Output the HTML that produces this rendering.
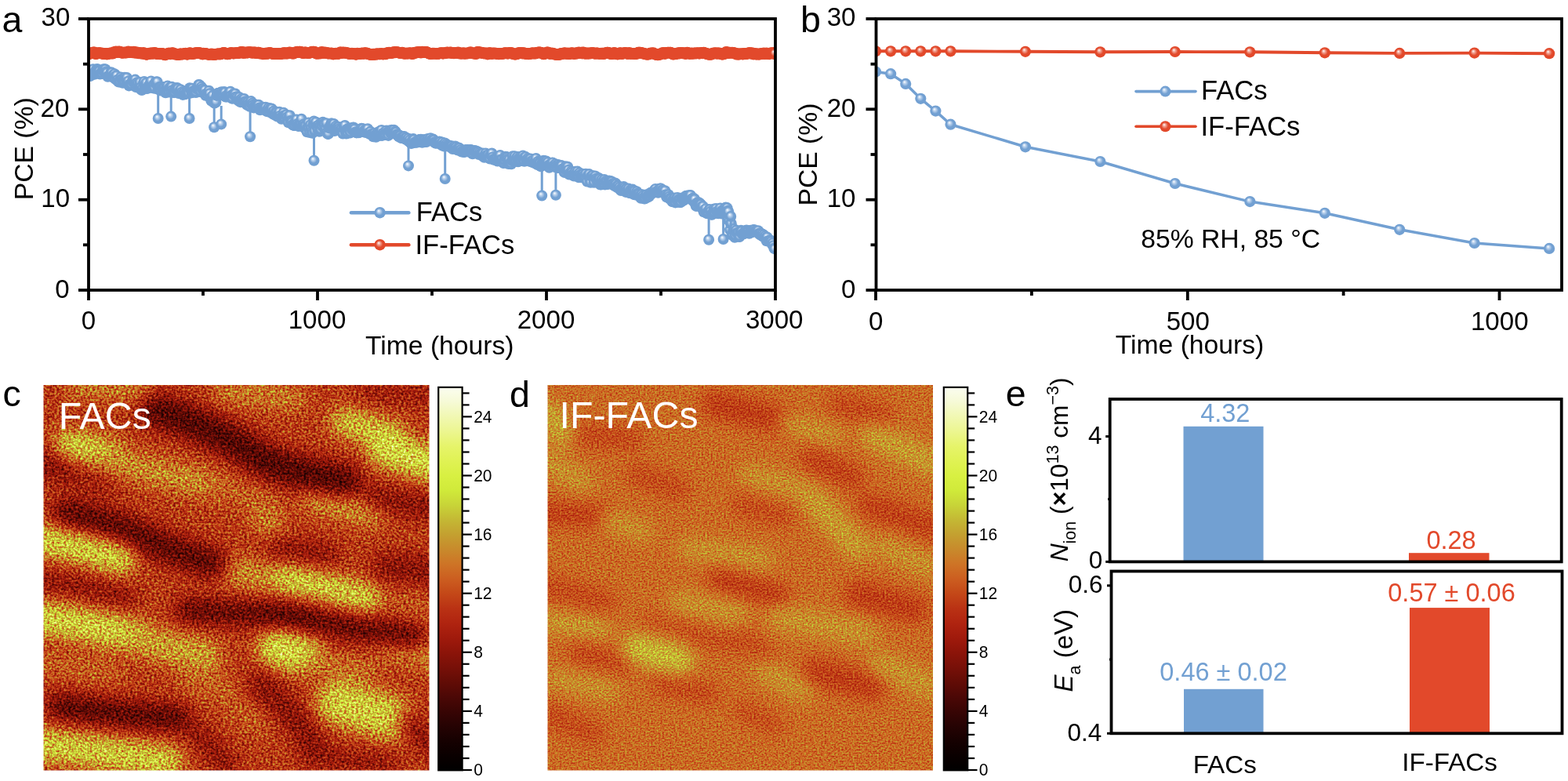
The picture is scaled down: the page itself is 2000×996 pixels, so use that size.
<!DOCTYPE html>
<html><head><meta charset="utf-8"><title>Figure</title><style>html,body{margin:0;padding:0;background:#fff;overflow:hidden}svg{display:block}</style></head><body>
<svg width="2000" height="996" viewBox="0 0 2000 996" font-family="'Liberation Sans', Arial, Helvetica, sans-serif">
<defs>
<radialGradient id="gb" cx="0.5" cy="0.5" r="0.5" fx="0.38" fy="0.32"><stop offset="0" stop-color="#fff"/><stop offset="0.28" stop-color="#B8D0EC"/><stop offset="0.62" stop-color="#72A0D2"/><stop offset="1" stop-color="#72A0D2"/></radialGradient>
<radialGradient id="gr" cx="0.5" cy="0.5" r="0.5" fx="0.38" fy="0.32"><stop offset="0" stop-color="#fff"/><stop offset="0.28" stop-color="#F0A090"/><stop offset="0.62" stop-color="#E2492B"/><stop offset="1" stop-color="#E2492B"/></radialGradient>
</defs>
<rect width="2000" height="996" fill="#fff"/>
<clipPath id="clipA"><rect x="113" y="24" width="876" height="346"/></clipPath>
<g clip-path="url(#clipA)" fill="url(#gr)"><circle cx="113.5" cy="69.1" r="7.3"/><circle cx="114.4" cy="67.8" r="7.3"/><circle cx="115.3" cy="68.1" r="7.3"/><circle cx="116.1" cy="67.8" r="7.3"/><circle cx="117.0" cy="67.7" r="7.3"/><circle cx="117.9" cy="67.7" r="7.3"/><circle cx="118.8" cy="66.9" r="7.3"/><circle cx="119.7" cy="67.1" r="7.3"/><circle cx="120.5" cy="66.9" r="7.3"/><circle cx="121.4" cy="68.7" r="7.3"/><circle cx="122.3" cy="68.7" r="7.3"/><circle cx="123.2" cy="68.4" r="7.3"/><circle cx="124.1" cy="68.3" r="7.3"/><circle cx="124.9" cy="67.9" r="7.3"/><circle cx="125.8" cy="67.5" r="7.3"/><circle cx="126.7" cy="67.5" r="7.3"/><circle cx="127.6" cy="67.8" r="7.3"/><circle cx="128.5" cy="67.8" r="7.3"/><circle cx="129.3" cy="68.3" r="7.3"/><circle cx="130.2" cy="68.1" r="7.3"/><circle cx="131.1" cy="68.1" r="7.3"/><circle cx="132.0" cy="68.8" r="7.3"/><circle cx="132.9" cy="68.8" r="7.3"/><circle cx="133.7" cy="68.4" r="7.3"/><circle cx="134.6" cy="68.2" r="7.3"/><circle cx="135.5" cy="68.4" r="7.3"/><circle cx="136.4" cy="69.1" r="7.3"/><circle cx="137.3" cy="68.7" r="7.3"/><circle cx="138.1" cy="68.3" r="7.3"/><circle cx="139.0" cy="68.6" r="7.3"/><circle cx="139.9" cy="68.0" r="7.3"/><circle cx="140.8" cy="67.7" r="7.3"/><circle cx="141.7" cy="68.0" r="7.3"/><circle cx="142.5" cy="68.1" r="7.3"/><circle cx="143.4" cy="67.9" r="7.3"/><circle cx="144.3" cy="68.1" r="7.3"/><circle cx="145.2" cy="66.6" r="7.3"/><circle cx="146.1" cy="67.1" r="7.3"/><circle cx="146.9" cy="66.6" r="7.3"/><circle cx="147.8" cy="65.9" r="7.3"/><circle cx="148.7" cy="66.2" r="7.3"/><circle cx="149.6" cy="66.6" r="7.3"/><circle cx="150.5" cy="66.4" r="7.3"/><circle cx="151.3" cy="65.9" r="7.3"/><circle cx="152.2" cy="66.1" r="7.3"/><circle cx="153.1" cy="66.1" r="7.3"/><circle cx="154.0" cy="66.9" r="7.3"/><circle cx="154.9" cy="67.1" r="7.3"/><circle cx="155.7" cy="67.1" r="7.3"/><circle cx="156.6" cy="67.5" r="7.3"/><circle cx="157.5" cy="67.2" r="7.3"/><circle cx="158.4" cy="66.7" r="7.3"/><circle cx="159.3" cy="67.0" r="7.3"/><circle cx="160.1" cy="67.2" r="7.3"/><circle cx="161.0" cy="67.1" r="7.3"/><circle cx="161.9" cy="66.7" r="7.3"/><circle cx="162.8" cy="66.9" r="7.3"/><circle cx="163.7" cy="65.8" r="7.3"/><circle cx="164.5" cy="66.4" r="7.3"/><circle cx="165.4" cy="66.8" r="7.3"/><circle cx="166.3" cy="66.2" r="7.3"/><circle cx="167.2" cy="66.5" r="7.3"/><circle cx="168.1" cy="66.3" r="7.3"/><circle cx="168.9" cy="66.9" r="7.3"/><circle cx="169.8" cy="66.2" r="7.3"/><circle cx="170.7" cy="66.1" r="7.3"/><circle cx="171.6" cy="66.8" r="7.3"/><circle cx="172.5" cy="67.5" r="7.3"/><circle cx="173.3" cy="66.7" r="7.3"/><circle cx="174.2" cy="66.7" r="7.3"/><circle cx="175.1" cy="67.2" r="7.3"/><circle cx="176.0" cy="67.1" r="7.3"/><circle cx="176.9" cy="68.0" r="7.3"/><circle cx="177.7" cy="67.5" r="7.3"/><circle cx="178.6" cy="67.9" r="7.3"/><circle cx="179.5" cy="67.5" r="7.3"/><circle cx="180.4" cy="68.3" r="7.3"/><circle cx="181.3" cy="68.3" r="7.3"/><circle cx="182.1" cy="68.2" r="7.3"/><circle cx="183.0" cy="67.4" r="7.3"/><circle cx="183.9" cy="68.4" r="7.3"/><circle cx="184.8" cy="68.7" r="7.3"/><circle cx="185.7" cy="69.0" r="7.3"/><circle cx="186.5" cy="69.4" r="7.3"/><circle cx="187.4" cy="69.4" r="7.3"/><circle cx="188.3" cy="68.9" r="7.3"/><circle cx="189.2" cy="68.5" r="7.3"/><circle cx="190.1" cy="68.1" r="7.3"/><circle cx="190.9" cy="68.8" r="7.3"/><circle cx="191.8" cy="68.1" r="7.3"/><circle cx="192.7" cy="67.9" r="7.3"/><circle cx="193.6" cy="67.9" r="7.3"/><circle cx="194.5" cy="68.1" r="7.3"/><circle cx="195.3" cy="68.4" r="7.3"/><circle cx="196.2" cy="67.9" r="7.3"/><circle cx="197.1" cy="67.2" r="7.3"/><circle cx="198.0" cy="67.5" r="7.3"/><circle cx="198.9" cy="68.2" r="7.3"/><circle cx="199.7" cy="68.6" r="7.3"/><circle cx="200.6" cy="68.7" r="7.3"/><circle cx="201.5" cy="68.5" r="7.3"/><circle cx="202.4" cy="68.6" r="7.3"/><circle cx="203.3" cy="68.5" r="7.3"/><circle cx="204.1" cy="68.9" r="7.3"/><circle cx="205.0" cy="68.4" r="7.3"/><circle cx="205.9" cy="68.5" r="7.3"/><circle cx="206.8" cy="68.4" r="7.3"/><circle cx="207.7" cy="68.7" r="7.3"/><circle cx="208.5" cy="68.8" r="7.3"/><circle cx="209.4" cy="69.8" r="7.3"/><circle cx="210.3" cy="69.9" r="7.3"/><circle cx="211.2" cy="69.9" r="7.3"/><circle cx="212.1" cy="69.2" r="7.3"/><circle cx="212.9" cy="68.9" r="7.3"/><circle cx="213.8" cy="68.6" r="7.3"/><circle cx="214.7" cy="68.8" r="7.3"/><circle cx="215.6" cy="67.7" r="7.3"/><circle cx="216.5" cy="68.4" r="7.3"/><circle cx="217.3" cy="68.9" r="7.3"/><circle cx="218.2" cy="68.2" r="7.3"/><circle cx="219.1" cy="67.8" r="7.3"/><circle cx="220.0" cy="67.6" r="7.3"/><circle cx="220.9" cy="67.8" r="7.3"/><circle cx="221.7" cy="68.2" r="7.3"/><circle cx="222.6" cy="69.2" r="7.3"/><circle cx="223.5" cy="68.9" r="7.3"/><circle cx="224.4" cy="69.2" r="7.3"/><circle cx="225.3" cy="69.1" r="7.3"/><circle cx="226.1" cy="69.7" r="7.3"/><circle cx="227.0" cy="69.8" r="7.3"/><circle cx="227.9" cy="69.8" r="7.3"/><circle cx="228.8" cy="69.3" r="7.3"/><circle cx="229.7" cy="69.0" r="7.3"/><circle cx="230.5" cy="68.5" r="7.3"/><circle cx="231.4" cy="69.2" r="7.3"/><circle cx="232.3" cy="69.3" r="7.3"/><circle cx="233.2" cy="69.0" r="7.3"/><circle cx="234.1" cy="68.7" r="7.3"/><circle cx="234.9" cy="68.8" r="7.3"/><circle cx="235.8" cy="68.4" r="7.3"/><circle cx="236.7" cy="68.0" r="7.3"/><circle cx="237.6" cy="68.3" r="7.3"/><circle cx="238.5" cy="69.4" r="7.3"/><circle cx="239.3" cy="69.1" r="7.3"/><circle cx="240.2" cy="68.7" r="7.3"/><circle cx="241.1" cy="68.1" r="7.3"/><circle cx="242.0" cy="67.5" r="7.3"/><circle cx="242.9" cy="67.9" r="7.3"/><circle cx="243.7" cy="68.4" r="7.3"/><circle cx="244.6" cy="68.4" r="7.3"/><circle cx="245.5" cy="68.5" r="7.3"/><circle cx="246.4" cy="68.5" r="7.3"/><circle cx="247.3" cy="68.5" r="7.3"/><circle cx="248.1" cy="67.8" r="7.3"/><circle cx="249.0" cy="67.7" r="7.3"/><circle cx="249.9" cy="67.9" r="7.3"/><circle cx="250.8" cy="67.6" r="7.3"/><circle cx="251.7" cy="67.5" r="7.3"/><circle cx="252.5" cy="67.3" r="7.3"/><circle cx="253.4" cy="67.3" r="7.3"/><circle cx="254.3" cy="67.9" r="7.3"/><circle cx="255.2" cy="67.8" r="7.3"/><circle cx="256.1" cy="67.8" r="7.3"/><circle cx="256.9" cy="68.3" r="7.3"/><circle cx="257.8" cy="68.5" r="7.3"/><circle cx="258.7" cy="69.2" r="7.3"/><circle cx="259.6" cy="68.1" r="7.3"/><circle cx="260.5" cy="68.5" r="7.3"/><circle cx="261.3" cy="68.2" r="7.3"/><circle cx="262.2" cy="68.3" r="7.3"/><circle cx="263.1" cy="68.6" r="7.3"/><circle cx="264.0" cy="69.0" r="7.3"/><circle cx="264.9" cy="69.3" r="7.3"/><circle cx="265.7" cy="69.2" r="7.3"/><circle cx="266.6" cy="69.6" r="7.3"/><circle cx="267.5" cy="69.2" r="7.3"/><circle cx="268.4" cy="69.0" r="7.3"/><circle cx="269.3" cy="69.2" r="7.3"/><circle cx="270.1" cy="68.7" r="7.3"/><circle cx="271.0" cy="69.5" r="7.3"/><circle cx="271.9" cy="69.5" r="7.3"/><circle cx="272.8" cy="69.5" r="7.3"/><circle cx="273.7" cy="69.5" r="7.3"/><circle cx="274.5" cy="69.4" r="7.3"/><circle cx="275.4" cy="69.2" r="7.3"/><circle cx="276.3" cy="69.3" r="7.3"/><circle cx="277.2" cy="68.8" r="7.3"/><circle cx="278.1" cy="68.8" r="7.3"/><circle cx="278.9" cy="68.7" r="7.3"/><circle cx="279.8" cy="69.3" r="7.3"/><circle cx="280.7" cy="68.7" r="7.3"/><circle cx="281.6" cy="69.0" r="7.3"/><circle cx="282.5" cy="68.6" r="7.3"/><circle cx="283.3" cy="68.0" r="7.3"/><circle cx="284.2" cy="67.7" r="7.3"/><circle cx="285.1" cy="67.2" r="7.3"/><circle cx="286.0" cy="67.4" r="7.3"/><circle cx="286.9" cy="68.0" r="7.3"/><circle cx="287.7" cy="68.1" r="7.3"/><circle cx="288.6" cy="68.3" r="7.3"/><circle cx="289.5" cy="69.0" r="7.3"/><circle cx="290.4" cy="68.9" r="7.3"/><circle cx="291.3" cy="68.8" r="7.3"/><circle cx="292.1" cy="68.5" r="7.3"/><circle cx="293.0" cy="67.7" r="7.3"/><circle cx="293.9" cy="68.1" r="7.3"/><circle cx="294.8" cy="67.2" r="7.3"/><circle cx="295.7" cy="67.7" r="7.3"/><circle cx="296.5" cy="67.7" r="7.3"/><circle cx="297.4" cy="68.2" r="7.3"/><circle cx="298.3" cy="68.1" r="7.3"/><circle cx="299.2" cy="67.7" r="7.3"/><circle cx="300.1" cy="67.9" r="7.3"/><circle cx="300.9" cy="67.6" r="7.3"/><circle cx="301.8" cy="67.6" r="7.3"/><circle cx="302.7" cy="67.7" r="7.3"/><circle cx="303.6" cy="67.6" r="7.3"/><circle cx="304.5" cy="67.6" r="7.3"/><circle cx="305.3" cy="67.3" r="7.3"/><circle cx="306.2" cy="67.3" r="7.3"/><circle cx="307.1" cy="66.4" r="7.3"/><circle cx="308.0" cy="66.6" r="7.3"/><circle cx="308.9" cy="66.4" r="7.3"/><circle cx="309.7" cy="67.1" r="7.3"/><circle cx="310.6" cy="67.8" r="7.3"/><circle cx="311.5" cy="66.9" r="7.3"/><circle cx="312.4" cy="67.2" r="7.3"/><circle cx="313.3" cy="67.2" r="7.3"/><circle cx="314.1" cy="66.8" r="7.3"/><circle cx="315.0" cy="67.3" r="7.3"/><circle cx="315.9" cy="67.1" r="7.3"/><circle cx="316.8" cy="66.5" r="7.3"/><circle cx="317.7" cy="66.6" r="7.3"/><circle cx="318.5" cy="66.7" r="7.3"/><circle cx="319.4" cy="67.0" r="7.3"/><circle cx="320.3" cy="66.6" r="7.3"/><circle cx="321.2" cy="67.1" r="7.3"/><circle cx="322.1" cy="67.5" r="7.3"/><circle cx="322.9" cy="67.0" r="7.3"/><circle cx="323.8" cy="66.8" r="7.3"/><circle cx="324.7" cy="67.0" r="7.3"/><circle cx="325.6" cy="66.8" r="7.3"/><circle cx="326.5" cy="67.8" r="7.3"/><circle cx="327.3" cy="67.8" r="7.3"/><circle cx="328.2" cy="67.3" r="7.3"/><circle cx="329.1" cy="67.0" r="7.3"/><circle cx="330.0" cy="67.1" r="7.3"/><circle cx="330.9" cy="68.2" r="7.3"/><circle cx="331.7" cy="68.0" r="7.3"/><circle cx="332.6" cy="68.0" r="7.3"/><circle cx="333.5" cy="68.1" r="7.3"/><circle cx="334.4" cy="68.0" r="7.3"/><circle cx="335.3" cy="68.9" r="7.3"/><circle cx="336.1" cy="68.4" r="7.3"/><circle cx="337.0" cy="68.6" r="7.3"/><circle cx="337.9" cy="68.4" r="7.3"/><circle cx="338.8" cy="68.5" r="7.3"/><circle cx="339.7" cy="67.8" r="7.3"/><circle cx="340.5" cy="68.5" r="7.3"/><circle cx="341.4" cy="68.3" r="7.3"/><circle cx="342.3" cy="68.1" r="7.3"/><circle cx="343.2" cy="67.6" r="7.3"/><circle cx="344.1" cy="67.2" r="7.3"/><circle cx="344.9" cy="67.5" r="7.3"/><circle cx="345.8" cy="68.0" r="7.3"/><circle cx="346.7" cy="68.2" r="7.3"/><circle cx="347.6" cy="68.6" r="7.3"/><circle cx="348.5" cy="68.7" r="7.3"/><circle cx="349.3" cy="68.4" r="7.3"/><circle cx="350.2" cy="68.6" r="7.3"/><circle cx="351.1" cy="68.7" r="7.3"/><circle cx="352.0" cy="68.4" r="7.3"/><circle cx="352.9" cy="68.5" r="7.3"/><circle cx="353.7" cy="68.8" r="7.3"/><circle cx="354.6" cy="68.7" r="7.3"/><circle cx="355.5" cy="68.3" r="7.3"/><circle cx="356.4" cy="68.4" r="7.3"/><circle cx="357.3" cy="68.8" r="7.3"/><circle cx="358.1" cy="68.6" r="7.3"/><circle cx="359.0" cy="68.3" r="7.3"/><circle cx="359.9" cy="68.1" r="7.3"/><circle cx="360.8" cy="68.5" r="7.3"/><circle cx="361.7" cy="67.5" r="7.3"/><circle cx="362.5" cy="67.6" r="7.3"/><circle cx="363.4" cy="68.1" r="7.3"/><circle cx="364.3" cy="67.6" r="7.3"/><circle cx="365.2" cy="68.2" r="7.3"/><circle cx="366.1" cy="68.3" r="7.3"/><circle cx="366.9" cy="67.9" r="7.3"/><circle cx="367.8" cy="67.9" r="7.3"/><circle cx="368.7" cy="67.1" r="7.3"/><circle cx="369.6" cy="66.9" r="7.3"/><circle cx="370.5" cy="67.8" r="7.3"/><circle cx="371.3" cy="67.3" r="7.3"/><circle cx="372.2" cy="68.2" r="7.3"/><circle cx="373.1" cy="68.0" r="7.3"/><circle cx="374.0" cy="68.3" r="7.3"/><circle cx="374.9" cy="68.1" r="7.3"/><circle cx="375.7" cy="67.0" r="7.3"/><circle cx="376.6" cy="66.8" r="7.3"/><circle cx="377.5" cy="67.0" r="7.3"/><circle cx="378.4" cy="66.6" r="7.3"/><circle cx="379.3" cy="66.1" r="7.3"/><circle cx="380.1" cy="66.5" r="7.3"/><circle cx="381.0" cy="66.4" r="7.3"/><circle cx="381.9" cy="66.0" r="7.3"/><circle cx="382.8" cy="66.0" r="7.3"/><circle cx="383.7" cy="66.5" r="7.3"/><circle cx="384.5" cy="66.5" r="7.3"/><circle cx="385.4" cy="67.1" r="7.3"/><circle cx="386.3" cy="67.8" r="7.3"/><circle cx="387.2" cy="67.8" r="7.3"/><circle cx="388.1" cy="67.2" r="7.3"/><circle cx="388.9" cy="66.7" r="7.3"/><circle cx="389.8" cy="66.8" r="7.3"/><circle cx="390.7" cy="67.3" r="7.3"/><circle cx="391.6" cy="67.5" r="7.3"/><circle cx="392.5" cy="67.7" r="7.3"/><circle cx="393.3" cy="67.4" r="7.3"/><circle cx="394.2" cy="67.6" r="7.3"/><circle cx="395.1" cy="67.3" r="7.3"/><circle cx="396.0" cy="67.2" r="7.3"/><circle cx="396.9" cy="66.7" r="7.3"/><circle cx="397.7" cy="66.1" r="7.3"/><circle cx="398.6" cy="66.2" r="7.3"/><circle cx="399.5" cy="66.1" r="7.3"/><circle cx="400.4" cy="66.1" r="7.3"/><circle cx="401.3" cy="66.5" r="7.3"/><circle cx="402.1" cy="66.6" r="7.3"/><circle cx="403.0" cy="68.1" r="7.3"/><circle cx="403.9" cy="68.4" r="7.3"/><circle cx="404.8" cy="68.0" r="7.3"/><circle cx="405.7" cy="68.2" r="7.3"/><circle cx="406.5" cy="68.2" r="7.3"/><circle cx="407.4" cy="67.8" r="7.3"/><circle cx="408.3" cy="68.3" r="7.3"/><circle cx="409.2" cy="67.8" r="7.3"/><circle cx="410.1" cy="66.4" r="7.3"/><circle cx="410.9" cy="67.0" r="7.3"/><circle cx="411.8" cy="66.8" r="7.3"/><circle cx="412.7" cy="67.6" r="7.3"/><circle cx="413.6" cy="67.3" r="7.3"/><circle cx="414.5" cy="66.9" r="7.3"/><circle cx="415.3" cy="67.7" r="7.3"/><circle cx="416.2" cy="67.2" r="7.3"/><circle cx="417.1" cy="67.4" r="7.3"/><circle cx="418.0" cy="68.1" r="7.3"/><circle cx="418.9" cy="68.1" r="7.3"/><circle cx="419.7" cy="68.0" r="7.3"/><circle cx="420.6" cy="68.0" r="7.3"/><circle cx="421.5" cy="68.3" r="7.3"/><circle cx="422.4" cy="67.8" r="7.3"/><circle cx="423.3" cy="68.1" r="7.3"/><circle cx="424.1" cy="68.3" r="7.3"/><circle cx="425.0" cy="69.1" r="7.3"/><circle cx="425.9" cy="68.8" r="7.3"/><circle cx="426.8" cy="68.2" r="7.3"/><circle cx="427.7" cy="68.4" r="7.3"/><circle cx="428.5" cy="68.1" r="7.3"/><circle cx="429.4" cy="68.2" r="7.3"/><circle cx="430.3" cy="68.2" r="7.3"/><circle cx="431.2" cy="68.6" r="7.3"/><circle cx="432.1" cy="68.2" r="7.3"/><circle cx="432.9" cy="68.1" r="7.3"/><circle cx="433.8" cy="66.9" r="7.3"/><circle cx="434.7" cy="66.7" r="7.3"/><circle cx="435.6" cy="67.6" r="7.3"/><circle cx="436.5" cy="67.4" r="7.3"/><circle cx="437.3" cy="67.1" r="7.3"/><circle cx="438.2" cy="66.8" r="7.3"/><circle cx="439.1" cy="67.2" r="7.3"/><circle cx="440.0" cy="67.5" r="7.3"/><circle cx="440.9" cy="67.0" r="7.3"/><circle cx="441.7" cy="67.5" r="7.3"/><circle cx="442.6" cy="67.7" r="7.3"/><circle cx="443.5" cy="68.1" r="7.3"/><circle cx="444.4" cy="67.8" r="7.3"/><circle cx="445.3" cy="68.6" r="7.3"/><circle cx="446.1" cy="68.7" r="7.3"/><circle cx="447.0" cy="68.5" r="7.3"/><circle cx="447.9" cy="68.2" r="7.3"/><circle cx="448.8" cy="68.0" r="7.3"/><circle cx="449.7" cy="68.4" r="7.3"/><circle cx="450.5" cy="68.2" r="7.3"/><circle cx="451.4" cy="68.7" r="7.3"/><circle cx="452.3" cy="68.8" r="7.3"/><circle cx="453.2" cy="69.2" r="7.3"/><circle cx="454.1" cy="69.4" r="7.3"/><circle cx="454.9" cy="69.1" r="7.3"/><circle cx="455.8" cy="68.0" r="7.3"/><circle cx="456.7" cy="68.2" r="7.3"/><circle cx="457.6" cy="68.5" r="7.3"/><circle cx="458.5" cy="68.5" r="7.3"/><circle cx="459.3" cy="68.7" r="7.3"/><circle cx="460.2" cy="68.3" r="7.3"/><circle cx="461.1" cy="68.1" r="7.3"/><circle cx="462.0" cy="67.7" r="7.3"/><circle cx="462.9" cy="68.4" r="7.3"/><circle cx="463.7" cy="68.4" r="7.3"/><circle cx="464.6" cy="68.1" r="7.3"/><circle cx="465.5" cy="67.5" r="7.3"/><circle cx="466.4" cy="67.6" r="7.3"/><circle cx="467.3" cy="68.3" r="7.3"/><circle cx="468.1" cy="68.5" r="7.3"/><circle cx="469.0" cy="68.1" r="7.3"/><circle cx="469.9" cy="68.7" r="7.3"/><circle cx="470.8" cy="69.2" r="7.3"/><circle cx="471.7" cy="69.4" r="7.3"/><circle cx="472.5" cy="69.5" r="7.3"/><circle cx="473.4" cy="69.5" r="7.3"/><circle cx="474.3" cy="69.5" r="7.3"/><circle cx="475.2" cy="69.5" r="7.3"/><circle cx="476.1" cy="69.0" r="7.3"/><circle cx="476.9" cy="69.5" r="7.3"/><circle cx="477.8" cy="69.3" r="7.3"/><circle cx="478.7" cy="69.5" r="7.3"/><circle cx="479.6" cy="68.7" r="7.3"/><circle cx="480.5" cy="68.9" r="7.3"/><circle cx="481.3" cy="69.1" r="7.3"/><circle cx="482.2" cy="68.8" r="7.3"/><circle cx="483.1" cy="68.8" r="7.3"/><circle cx="484.0" cy="69.0" r="7.3"/><circle cx="484.9" cy="69.0" r="7.3"/><circle cx="485.7" cy="68.6" r="7.3"/><circle cx="486.6" cy="68.4" r="7.3"/><circle cx="487.5" cy="68.8" r="7.3"/><circle cx="488.4" cy="69.2" r="7.3"/><circle cx="489.3" cy="69.0" r="7.3"/><circle cx="490.1" cy="68.8" r="7.3"/><circle cx="491.0" cy="68.7" r="7.3"/><circle cx="491.9" cy="69.0" r="7.3"/><circle cx="492.8" cy="68.3" r="7.3"/><circle cx="493.7" cy="67.6" r="7.3"/><circle cx="494.5" cy="67.7" r="7.3"/><circle cx="495.4" cy="67.3" r="7.3"/><circle cx="496.3" cy="67.1" r="7.3"/><circle cx="497.2" cy="67.3" r="7.3"/><circle cx="498.1" cy="67.6" r="7.3"/><circle cx="498.9" cy="67.2" r="7.3"/><circle cx="499.8" cy="67.6" r="7.3"/><circle cx="500.7" cy="66.9" r="7.3"/><circle cx="501.6" cy="67.3" r="7.3"/><circle cx="502.5" cy="66.7" r="7.3"/><circle cx="503.3" cy="66.4" r="7.3"/><circle cx="504.2" cy="66.9" r="7.3"/><circle cx="505.1" cy="66.8" r="7.3"/><circle cx="506.0" cy="66.6" r="7.3"/><circle cx="506.9" cy="66.6" r="7.3"/><circle cx="507.7" cy="67.0" r="7.3"/><circle cx="508.6" cy="67.1" r="7.3"/><circle cx="509.5" cy="67.2" r="7.3"/><circle cx="510.4" cy="67.7" r="7.3"/><circle cx="511.3" cy="67.4" r="7.3"/><circle cx="512.1" cy="67.2" r="7.3"/><circle cx="513.0" cy="67.0" r="7.3"/><circle cx="513.9" cy="67.6" r="7.3"/><circle cx="514.8" cy="68.0" r="7.3"/><circle cx="515.7" cy="68.5" r="7.3"/><circle cx="516.5" cy="68.3" r="7.3"/><circle cx="517.4" cy="68.0" r="7.3"/><circle cx="518.3" cy="68.3" r="7.3"/><circle cx="519.2" cy="67.9" r="7.3"/><circle cx="520.1" cy="68.2" r="7.3"/><circle cx="520.9" cy="68.3" r="7.3"/><circle cx="521.8" cy="67.8" r="7.3"/><circle cx="522.7" cy="67.7" r="7.3"/><circle cx="523.6" cy="67.5" r="7.3"/><circle cx="524.5" cy="68.3" r="7.3"/><circle cx="525.3" cy="68.7" r="7.3"/><circle cx="526.2" cy="68.7" r="7.3"/><circle cx="527.1" cy="68.5" r="7.3"/><circle cx="528.0" cy="67.2" r="7.3"/><circle cx="528.9" cy="67.3" r="7.3"/><circle cx="529.7" cy="67.3" r="7.3"/><circle cx="530.6" cy="66.8" r="7.3"/><circle cx="531.5" cy="67.2" r="7.3"/><circle cx="532.4" cy="66.5" r="7.3"/><circle cx="533.3" cy="66.5" r="7.3"/><circle cx="534.1" cy="66.7" r="7.3"/><circle cx="535.0" cy="66.2" r="7.3"/><circle cx="535.9" cy="66.8" r="7.3"/><circle cx="536.8" cy="67.3" r="7.3"/><circle cx="537.7" cy="66.7" r="7.3"/><circle cx="538.5" cy="66.1" r="7.3"/><circle cx="539.4" cy="66.6" r="7.3"/><circle cx="540.3" cy="66.7" r="7.3"/><circle cx="541.2" cy="66.2" r="7.3"/><circle cx="542.1" cy="66.3" r="7.3"/><circle cx="542.9" cy="66.4" r="7.3"/><circle cx="543.8" cy="66.4" r="7.3"/><circle cx="544.7" cy="66.9" r="7.3"/><circle cx="545.6" cy="67.1" r="7.3"/><circle cx="546.5" cy="67.9" r="7.3"/><circle cx="547.3" cy="68.4" r="7.3"/><circle cx="548.2" cy="68.4" r="7.3"/><circle cx="549.1" cy="68.5" r="7.3"/><circle cx="550.0" cy="68.5" r="7.3"/><circle cx="550.9" cy="68.5" r="7.3"/><circle cx="551.7" cy="68.0" r="7.3"/><circle cx="552.6" cy="68.2" r="7.3"/><circle cx="553.5" cy="68.0" r="7.3"/><circle cx="554.4" cy="68.5" r="7.3"/><circle cx="555.3" cy="68.3" r="7.3"/><circle cx="556.1" cy="68.3" r="7.3"/><circle cx="557.0" cy="68.2" r="7.3"/><circle cx="557.9" cy="68.5" r="7.3"/><circle cx="558.8" cy="68.5" r="7.3"/><circle cx="559.7" cy="68.1" r="7.3"/><circle cx="560.5" cy="68.1" r="7.3"/><circle cx="561.4" cy="67.7" r="7.3"/><circle cx="562.3" cy="67.7" r="7.3"/><circle cx="563.2" cy="67.6" r="7.3"/><circle cx="564.1" cy="67.6" r="7.3"/><circle cx="564.9" cy="68.4" r="7.3"/><circle cx="565.8" cy="68.0" r="7.3"/><circle cx="566.7" cy="67.8" r="7.3"/><circle cx="567.6" cy="67.6" r="7.3"/><circle cx="568.5" cy="67.9" r="7.3"/><circle cx="569.3" cy="67.2" r="7.3"/><circle cx="570.2" cy="66.9" r="7.3"/><circle cx="571.1" cy="67.0" r="7.3"/><circle cx="572.0" cy="67.3" r="7.3"/><circle cx="572.9" cy="67.3" r="7.3"/><circle cx="573.7" cy="67.0" r="7.3"/><circle cx="574.6" cy="66.7" r="7.3"/><circle cx="575.5" cy="67.1" r="7.3"/><circle cx="576.4" cy="67.8" r="7.3"/><circle cx="577.3" cy="67.8" r="7.3"/><circle cx="578.1" cy="67.8" r="7.3"/><circle cx="579.0" cy="68.0" r="7.3"/><circle cx="579.9" cy="67.4" r="7.3"/><circle cx="580.8" cy="67.3" r="7.3"/><circle cx="581.7" cy="67.2" r="7.3"/><circle cx="582.5" cy="67.4" r="7.3"/><circle cx="583.4" cy="67.4" r="7.3"/><circle cx="584.3" cy="66.9" r="7.3"/><circle cx="585.2" cy="67.5" r="7.3"/><circle cx="586.1" cy="68.3" r="7.3"/><circle cx="586.9" cy="68.0" r="7.3"/><circle cx="587.8" cy="68.1" r="7.3"/><circle cx="588.7" cy="68.1" r="7.3"/><circle cx="589.6" cy="68.3" r="7.3"/><circle cx="590.5" cy="67.5" r="7.3"/><circle cx="591.3" cy="68.3" r="7.3"/><circle cx="592.2" cy="67.9" r="7.3"/><circle cx="593.1" cy="68.4" r="7.3"/><circle cx="594.0" cy="68.3" r="7.3"/><circle cx="594.9" cy="68.0" r="7.3"/><circle cx="595.7" cy="67.9" r="7.3"/><circle cx="596.6" cy="68.2" r="7.3"/><circle cx="597.5" cy="67.7" r="7.3"/><circle cx="598.4" cy="67.5" r="7.3"/><circle cx="599.3" cy="67.4" r="7.3"/><circle cx="600.1" cy="66.6" r="7.3"/><circle cx="601.0" cy="67.4" r="7.3"/><circle cx="601.9" cy="67.8" r="7.3"/><circle cx="602.8" cy="67.7" r="7.3"/><circle cx="603.7" cy="68.3" r="7.3"/><circle cx="604.5" cy="67.7" r="7.3"/><circle cx="605.4" cy="67.7" r="7.3"/><circle cx="606.3" cy="68.5" r="7.3"/><circle cx="607.2" cy="68.8" r="7.3"/><circle cx="608.1" cy="67.6" r="7.3"/><circle cx="608.9" cy="66.3" r="7.3"/><circle cx="609.8" cy="66.3" r="7.3"/><circle cx="610.7" cy="66.8" r="7.3"/><circle cx="611.6" cy="66.8" r="7.3"/><circle cx="612.5" cy="66.9" r="7.3"/><circle cx="613.3" cy="67.4" r="7.3"/><circle cx="614.2" cy="67.0" r="7.3"/><circle cx="615.1" cy="67.3" r="7.3"/><circle cx="616.0" cy="67.8" r="7.3"/><circle cx="616.9" cy="68.0" r="7.3"/><circle cx="617.7" cy="68.1" r="7.3"/><circle cx="618.6" cy="67.8" r="7.3"/><circle cx="619.5" cy="68.0" r="7.3"/><circle cx="620.4" cy="67.8" r="7.3"/><circle cx="621.3" cy="68.4" r="7.3"/><circle cx="622.1" cy="69.2" r="7.3"/><circle cx="623.0" cy="68.8" r="7.3"/><circle cx="623.9" cy="67.6" r="7.3"/><circle cx="624.8" cy="67.5" r="7.3"/><circle cx="625.7" cy="67.7" r="7.3"/><circle cx="626.5" cy="68.2" r="7.3"/><circle cx="627.4" cy="68.6" r="7.3"/><circle cx="628.3" cy="68.1" r="7.3"/><circle cx="629.2" cy="67.7" r="7.3"/><circle cx="630.1" cy="68.3" r="7.3"/><circle cx="630.9" cy="67.7" r="7.3"/><circle cx="631.8" cy="68.3" r="7.3"/><circle cx="632.7" cy="68.1" r="7.3"/><circle cx="633.6" cy="68.4" r="7.3"/><circle cx="634.5" cy="68.6" r="7.3"/><circle cx="635.3" cy="68.8" r="7.3"/><circle cx="636.2" cy="69.0" r="7.3"/><circle cx="637.1" cy="68.3" r="7.3"/><circle cx="638.0" cy="68.4" r="7.3"/><circle cx="638.9" cy="68.3" r="7.3"/><circle cx="639.7" cy="68.3" r="7.3"/><circle cx="640.6" cy="68.8" r="7.3"/><circle cx="641.5" cy="68.5" r="7.3"/><circle cx="642.4" cy="68.0" r="7.3"/><circle cx="643.3" cy="67.7" r="7.3"/><circle cx="644.1" cy="67.6" r="7.3"/><circle cx="645.0" cy="68.0" r="7.3"/><circle cx="645.9" cy="67.6" r="7.3"/><circle cx="646.8" cy="68.2" r="7.3"/><circle cx="647.7" cy="68.2" r="7.3"/><circle cx="648.5" cy="68.1" r="7.3"/><circle cx="649.4" cy="67.4" r="7.3"/><circle cx="650.3" cy="67.6" r="7.3"/><circle cx="651.2" cy="68.0" r="7.3"/><circle cx="652.1" cy="67.2" r="7.3"/><circle cx="652.9" cy="67.9" r="7.3"/><circle cx="653.8" cy="68.6" r="7.3"/><circle cx="654.7" cy="68.6" r="7.3"/><circle cx="655.6" cy="68.7" r="7.3"/><circle cx="656.5" cy="69.3" r="7.3"/><circle cx="657.3" cy="69.3" r="7.3"/><circle cx="658.2" cy="69.0" r="7.3"/><circle cx="659.1" cy="68.8" r="7.3"/><circle cx="660.0" cy="68.5" r="7.3"/><circle cx="660.9" cy="68.3" r="7.3"/><circle cx="661.7" cy="67.2" r="7.3"/><circle cx="662.6" cy="67.7" r="7.3"/><circle cx="663.5" cy="67.4" r="7.3"/><circle cx="664.4" cy="67.6" r="7.3"/><circle cx="665.3" cy="67.6" r="7.3"/><circle cx="666.1" cy="68.1" r="7.3"/><circle cx="667.0" cy="67.9" r="7.3"/><circle cx="667.9" cy="67.5" r="7.3"/><circle cx="668.8" cy="67.8" r="7.3"/><circle cx="669.7" cy="68.5" r="7.3"/><circle cx="670.5" cy="68.2" r="7.3"/><circle cx="671.4" cy="68.8" r="7.3"/><circle cx="672.3" cy="68.7" r="7.3"/><circle cx="673.2" cy="68.3" r="7.3"/><circle cx="674.1" cy="68.9" r="7.3"/><circle cx="674.9" cy="68.4" r="7.3"/><circle cx="675.8" cy="68.7" r="7.3"/><circle cx="676.7" cy="68.3" r="7.3"/><circle cx="677.6" cy="68.5" r="7.3"/><circle cx="678.5" cy="67.8" r="7.3"/><circle cx="679.3" cy="67.5" r="7.3"/><circle cx="680.2" cy="68.0" r="7.3"/><circle cx="681.1" cy="68.1" r="7.3"/><circle cx="682.0" cy="68.1" r="7.3"/><circle cx="682.9" cy="67.9" r="7.3"/><circle cx="683.7" cy="68.1" r="7.3"/><circle cx="684.6" cy="67.4" r="7.3"/><circle cx="685.5" cy="67.0" r="7.3"/><circle cx="686.4" cy="67.1" r="7.3"/><circle cx="687.3" cy="66.9" r="7.3"/><circle cx="688.1" cy="66.8" r="7.3"/><circle cx="689.0" cy="67.0" r="7.3"/><circle cx="689.9" cy="67.1" r="7.3"/><circle cx="690.8" cy="67.2" r="7.3"/><circle cx="691.7" cy="68.1" r="7.3"/><circle cx="692.5" cy="68.5" r="7.3"/><circle cx="693.4" cy="69.0" r="7.3"/><circle cx="694.3" cy="68.8" r="7.3"/><circle cx="695.2" cy="68.4" r="7.3"/><circle cx="696.1" cy="67.7" r="7.3"/><circle cx="696.9" cy="67.6" r="7.3"/><circle cx="697.8" cy="66.7" r="7.3"/><circle cx="698.7" cy="66.7" r="7.3"/><circle cx="699.6" cy="67.3" r="7.3"/><circle cx="700.5" cy="68.2" r="7.3"/><circle cx="701.3" cy="68.6" r="7.3"/><circle cx="702.2" cy="68.1" r="7.3"/><circle cx="703.1" cy="68.3" r="7.3"/><circle cx="704.0" cy="67.9" r="7.3"/><circle cx="704.9" cy="68.3" r="7.3"/><circle cx="705.7" cy="68.2" r="7.3"/><circle cx="706.6" cy="68.5" r="7.3"/><circle cx="707.5" cy="69.4" r="7.3"/><circle cx="708.4" cy="69.4" r="7.3"/><circle cx="709.3" cy="69.4" r="7.3"/><circle cx="710.1" cy="69.4" r="7.3"/><circle cx="711.0" cy="69.5" r="7.3"/><circle cx="711.9" cy="69.5" r="7.3"/><circle cx="712.8" cy="69.5" r="7.3"/><circle cx="713.7" cy="69.5" r="7.3"/><circle cx="714.5" cy="69.3" r="7.3"/><circle cx="715.4" cy="68.4" r="7.3"/><circle cx="716.3" cy="68.3" r="7.3"/><circle cx="717.2" cy="68.6" r="7.3"/><circle cx="718.1" cy="68.5" r="7.3"/><circle cx="718.9" cy="68.2" r="7.3"/><circle cx="719.8" cy="67.5" r="7.3"/><circle cx="720.7" cy="67.8" r="7.3"/><circle cx="721.6" cy="68.2" r="7.3"/><circle cx="722.5" cy="68.5" r="7.3"/><circle cx="723.3" cy="68.5" r="7.3"/><circle cx="724.2" cy="67.9" r="7.3"/><circle cx="725.1" cy="68.7" r="7.3"/><circle cx="726.0" cy="68.6" r="7.3"/><circle cx="726.9" cy="68.4" r="7.3"/><circle cx="727.7" cy="68.7" r="7.3"/><circle cx="728.6" cy="67.6" r="7.3"/><circle cx="729.5" cy="67.7" r="7.3"/><circle cx="730.4" cy="67.7" r="7.3"/><circle cx="731.3" cy="68.0" r="7.3"/><circle cx="732.1" cy="68.6" r="7.3"/><circle cx="733.0" cy="68.8" r="7.3"/><circle cx="733.9" cy="67.8" r="7.3"/><circle cx="734.8" cy="67.8" r="7.3"/><circle cx="735.7" cy="67.9" r="7.3"/><circle cx="736.5" cy="68.1" r="7.3"/><circle cx="737.4" cy="67.5" r="7.3"/><circle cx="738.3" cy="66.9" r="7.3"/><circle cx="739.2" cy="67.4" r="7.3"/><circle cx="740.1" cy="67.7" r="7.3"/><circle cx="740.9" cy="67.8" r="7.3"/><circle cx="741.8" cy="67.1" r="7.3"/><circle cx="742.7" cy="68.2" r="7.3"/><circle cx="743.6" cy="66.9" r="7.3"/><circle cx="744.5" cy="67.0" r="7.3"/><circle cx="745.3" cy="68.2" r="7.3"/><circle cx="746.2" cy="68.1" r="7.3"/><circle cx="747.1" cy="68.3" r="7.3"/><circle cx="748.0" cy="67.7" r="7.3"/><circle cx="748.9" cy="68.5" r="7.3"/><circle cx="749.7" cy="67.8" r="7.3"/><circle cx="750.6" cy="68.1" r="7.3"/><circle cx="751.5" cy="68.2" r="7.3"/><circle cx="752.4" cy="67.7" r="7.3"/><circle cx="753.3" cy="68.2" r="7.3"/><circle cx="754.1" cy="67.6" r="7.3"/><circle cx="755.0" cy="67.5" r="7.3"/><circle cx="755.9" cy="67.6" r="7.3"/><circle cx="756.8" cy="67.6" r="7.3"/><circle cx="757.7" cy="67.9" r="7.3"/><circle cx="758.5" cy="68.4" r="7.3"/><circle cx="759.4" cy="68.3" r="7.3"/><circle cx="760.3" cy="68.1" r="7.3"/><circle cx="761.2" cy="67.9" r="7.3"/><circle cx="762.1" cy="67.8" r="7.3"/><circle cx="762.9" cy="68.3" r="7.3"/><circle cx="763.8" cy="68.2" r="7.3"/><circle cx="764.7" cy="68.4" r="7.3"/><circle cx="765.6" cy="68.4" r="7.3"/><circle cx="766.5" cy="68.0" r="7.3"/><circle cx="767.3" cy="68.5" r="7.3"/><circle cx="768.2" cy="68.0" r="7.3"/><circle cx="769.1" cy="68.1" r="7.3"/><circle cx="770.0" cy="68.8" r="7.3"/><circle cx="770.9" cy="68.2" r="7.3"/><circle cx="771.7" cy="68.2" r="7.3"/><circle cx="772.6" cy="67.6" r="7.3"/><circle cx="773.5" cy="67.5" r="7.3"/><circle cx="774.4" cy="67.0" r="7.3"/><circle cx="775.3" cy="67.1" r="7.3"/><circle cx="776.1" cy="67.2" r="7.3"/><circle cx="777.0" cy="67.5" r="7.3"/><circle cx="777.9" cy="68.4" r="7.3"/><circle cx="778.8" cy="68.5" r="7.3"/><circle cx="779.7" cy="68.8" r="7.3"/><circle cx="780.5" cy="68.7" r="7.3"/><circle cx="781.4" cy="68.5" r="7.3"/><circle cx="782.3" cy="68.1" r="7.3"/><circle cx="783.2" cy="67.4" r="7.3"/><circle cx="784.1" cy="67.6" r="7.3"/><circle cx="784.9" cy="68.5" r="7.3"/><circle cx="785.8" cy="68.7" r="7.3"/><circle cx="786.7" cy="68.4" r="7.3"/><circle cx="787.6" cy="69.2" r="7.3"/><circle cx="788.5" cy="68.9" r="7.3"/><circle cx="789.3" cy="68.5" r="7.3"/><circle cx="790.2" cy="67.9" r="7.3"/><circle cx="791.1" cy="67.6" r="7.3"/><circle cx="792.0" cy="67.7" r="7.3"/><circle cx="792.9" cy="68.7" r="7.3"/><circle cx="793.7" cy="68.6" r="7.3"/><circle cx="794.6" cy="68.1" r="7.3"/><circle cx="795.5" cy="67.9" r="7.3"/><circle cx="796.4" cy="67.9" r="7.3"/><circle cx="797.3" cy="67.3" r="7.3"/><circle cx="798.1" cy="67.6" r="7.3"/><circle cx="799.0" cy="68.1" r="7.3"/><circle cx="799.9" cy="68.3" r="7.3"/><circle cx="800.8" cy="68.6" r="7.3"/><circle cx="801.7" cy="68.0" r="7.3"/><circle cx="802.5" cy="67.3" r="7.3"/><circle cx="803.4" cy="68.1" r="7.3"/><circle cx="804.3" cy="68.7" r="7.3"/><circle cx="805.2" cy="68.0" r="7.3"/><circle cx="806.1" cy="68.2" r="7.3"/><circle cx="806.9" cy="68.3" r="7.3"/><circle cx="807.8" cy="68.5" r="7.3"/><circle cx="808.7" cy="68.6" r="7.3"/><circle cx="809.6" cy="68.4" r="7.3"/><circle cx="810.5" cy="68.5" r="7.3"/><circle cx="811.3" cy="68.6" r="7.3"/><circle cx="812.2" cy="68.5" r="7.3"/><circle cx="813.1" cy="67.7" r="7.3"/><circle cx="814.0" cy="67.1" r="7.3"/><circle cx="814.9" cy="67.1" r="7.3"/><circle cx="815.7" cy="67.1" r="7.3"/><circle cx="816.6" cy="67.1" r="7.3"/><circle cx="817.5" cy="67.4" r="7.3"/><circle cx="818.4" cy="67.8" r="7.3"/><circle cx="819.3" cy="67.8" r="7.3"/><circle cx="820.1" cy="67.9" r="7.3"/><circle cx="821.0" cy="68.6" r="7.3"/><circle cx="821.9" cy="68.2" r="7.3"/><circle cx="822.8" cy="68.7" r="7.3"/><circle cx="823.7" cy="69.0" r="7.3"/><circle cx="824.5" cy="69.0" r="7.3"/><circle cx="825.4" cy="69.5" r="7.3"/><circle cx="826.3" cy="69.0" r="7.3"/><circle cx="827.2" cy="69.3" r="7.3"/><circle cx="828.1" cy="68.7" r="7.3"/><circle cx="828.9" cy="68.3" r="7.3"/><circle cx="829.8" cy="67.9" r="7.3"/><circle cx="830.7" cy="68.2" r="7.3"/><circle cx="831.6" cy="67.8" r="7.3"/><circle cx="832.5" cy="68.0" r="7.3"/><circle cx="833.3" cy="67.6" r="7.3"/><circle cx="834.2" cy="68.2" r="7.3"/><circle cx="835.1" cy="69.1" r="7.3"/><circle cx="836.0" cy="69.1" r="7.3"/><circle cx="836.9" cy="69.7" r="7.3"/><circle cx="837.7" cy="69.7" r="7.3"/><circle cx="838.6" cy="69.9" r="7.3"/><circle cx="839.5" cy="69.9" r="7.3"/><circle cx="840.4" cy="69.0" r="7.3"/><circle cx="841.3" cy="69.6" r="7.3"/><circle cx="842.1" cy="69.3" r="7.3"/><circle cx="843.0" cy="68.7" r="7.3"/><circle cx="843.9" cy="68.3" r="7.3"/><circle cx="844.8" cy="67.6" r="7.3"/><circle cx="845.7" cy="67.7" r="7.3"/><circle cx="846.5" cy="67.4" r="7.3"/><circle cx="847.4" cy="68.2" r="7.3"/><circle cx="848.3" cy="68.6" r="7.3"/><circle cx="849.2" cy="67.8" r="7.3"/><circle cx="850.1" cy="67.2" r="7.3"/><circle cx="850.9" cy="67.2" r="7.3"/><circle cx="851.8" cy="67.0" r="7.3"/><circle cx="852.7" cy="67.0" r="7.3"/><circle cx="853.6" cy="67.2" r="7.3"/><circle cx="854.5" cy="67.1" r="7.3"/><circle cx="855.3" cy="67.1" r="7.3"/><circle cx="856.2" cy="67.6" r="7.3"/><circle cx="857.1" cy="68.4" r="7.3"/><circle cx="858.0" cy="69.1" r="7.3"/><circle cx="858.9" cy="68.9" r="7.3"/><circle cx="859.7" cy="69.2" r="7.3"/><circle cx="860.6" cy="68.7" r="7.3"/><circle cx="861.5" cy="68.8" r="7.3"/><circle cx="862.4" cy="68.3" r="7.3"/><circle cx="863.3" cy="68.6" r="7.3"/><circle cx="864.1" cy="68.0" r="7.3"/><circle cx="865.0" cy="67.6" r="7.3"/><circle cx="865.9" cy="67.8" r="7.3"/><circle cx="866.8" cy="68.1" r="7.3"/><circle cx="867.7" cy="67.5" r="7.3"/><circle cx="868.5" cy="67.4" r="7.3"/><circle cx="869.4" cy="67.7" r="7.3"/><circle cx="870.3" cy="67.9" r="7.3"/><circle cx="871.2" cy="67.6" r="7.3"/><circle cx="872.1" cy="67.8" r="7.3"/><circle cx="872.9" cy="67.8" r="7.3"/><circle cx="873.8" cy="68.5" r="7.3"/><circle cx="874.7" cy="68.7" r="7.3"/><circle cx="875.6" cy="68.0" r="7.3"/><circle cx="876.5" cy="67.1" r="7.3"/><circle cx="877.3" cy="67.4" r="7.3"/><circle cx="878.2" cy="68.1" r="7.3"/><circle cx="879.1" cy="68.2" r="7.3"/><circle cx="880.0" cy="68.6" r="7.3"/><circle cx="880.9" cy="68.3" r="7.3"/><circle cx="881.7" cy="67.7" r="7.3"/><circle cx="882.6" cy="68.1" r="7.3"/><circle cx="883.5" cy="68.2" r="7.3"/><circle cx="884.4" cy="68.5" r="7.3"/><circle cx="885.3" cy="67.8" r="7.3"/><circle cx="886.1" cy="68.0" r="7.3"/><circle cx="887.0" cy="67.8" r="7.3"/><circle cx="887.9" cy="68.2" r="7.3"/><circle cx="888.8" cy="67.9" r="7.3"/><circle cx="889.7" cy="67.7" r="7.3"/><circle cx="890.5" cy="67.6" r="7.3"/><circle cx="891.4" cy="68.2" r="7.3"/><circle cx="892.3" cy="68.2" r="7.3"/><circle cx="893.2" cy="67.9" r="7.3"/><circle cx="894.1" cy="67.5" r="7.3"/><circle cx="894.9" cy="67.2" r="7.3"/><circle cx="895.8" cy="68.0" r="7.3"/><circle cx="896.7" cy="67.2" r="7.3"/><circle cx="897.6" cy="67.0" r="7.3"/><circle cx="898.5" cy="67.5" r="7.3"/><circle cx="899.3" cy="68.2" r="7.3"/><circle cx="900.2" cy="68.1" r="7.3"/><circle cx="901.1" cy="68.5" r="7.3"/><circle cx="902.0" cy="68.7" r="7.3"/><circle cx="902.9" cy="69.1" r="7.3"/><circle cx="903.7" cy="68.9" r="7.3"/><circle cx="904.6" cy="69.5" r="7.3"/><circle cx="905.5" cy="69.3" r="7.3"/><circle cx="906.4" cy="69.5" r="7.3"/><circle cx="907.3" cy="68.9" r="7.3"/><circle cx="908.1" cy="69.2" r="7.3"/><circle cx="909.0" cy="68.4" r="7.3"/><circle cx="909.9" cy="67.7" r="7.3"/><circle cx="910.8" cy="68.0" r="7.3"/><circle cx="911.7" cy="67.7" r="7.3"/><circle cx="912.5" cy="68.0" r="7.3"/><circle cx="913.4" cy="67.5" r="7.3"/><circle cx="914.3" cy="68.4" r="7.3"/><circle cx="915.2" cy="68.3" r="7.3"/><circle cx="916.1" cy="67.8" r="7.3"/><circle cx="916.9" cy="67.9" r="7.3"/><circle cx="917.8" cy="68.4" r="7.3"/><circle cx="918.7" cy="68.0" r="7.3"/><circle cx="919.6" cy="68.2" r="7.3"/><circle cx="920.5" cy="69.1" r="7.3"/><circle cx="921.3" cy="69.3" r="7.3"/><circle cx="922.2" cy="69.1" r="7.3"/><circle cx="923.1" cy="68.6" r="7.3"/><circle cx="924.0" cy="68.8" r="7.3"/><circle cx="924.9" cy="68.0" r="7.3"/><circle cx="925.7" cy="66.6" r="7.3"/><circle cx="926.6" cy="66.6" r="7.3"/><circle cx="927.5" cy="66.6" r="7.3"/><circle cx="928.4" cy="67.6" r="7.3"/><circle cx="929.3" cy="67.7" r="7.3"/><circle cx="930.1" cy="67.4" r="7.3"/><circle cx="931.0" cy="67.0" r="7.3"/><circle cx="931.9" cy="67.4" r="7.3"/><circle cx="932.8" cy="67.2" r="7.3"/><circle cx="933.7" cy="67.1" r="7.3"/><circle cx="934.5" cy="67.3" r="7.3"/><circle cx="935.4" cy="67.5" r="7.3"/><circle cx="936.3" cy="67.6" r="7.3"/><circle cx="937.2" cy="67.8" r="7.3"/><circle cx="938.1" cy="68.4" r="7.3"/><circle cx="938.9" cy="69.1" r="7.3"/><circle cx="939.8" cy="68.2" r="7.3"/><circle cx="940.7" cy="69.3" r="7.3"/><circle cx="941.6" cy="69.1" r="7.3"/><circle cx="942.5" cy="69.3" r="7.3"/><circle cx="943.3" cy="68.9" r="7.3"/><circle cx="944.2" cy="68.9" r="7.3"/><circle cx="945.1" cy="68.8" r="7.3"/><circle cx="946.0" cy="68.7" r="7.3"/><circle cx="946.9" cy="69.0" r="7.3"/><circle cx="947.7" cy="69.1" r="7.3"/><circle cx="948.6" cy="68.4" r="7.3"/><circle cx="949.5" cy="68.3" r="7.3"/><circle cx="950.4" cy="68.6" r="7.3"/><circle cx="951.3" cy="68.8" r="7.3"/><circle cx="952.1" cy="68.5" r="7.3"/><circle cx="953.0" cy="68.3" r="7.3"/><circle cx="953.9" cy="68.2" r="7.3"/><circle cx="954.8" cy="67.7" r="7.3"/><circle cx="955.7" cy="67.2" r="7.3"/><circle cx="956.5" cy="68.1" r="7.3"/><circle cx="957.4" cy="67.9" r="7.3"/><circle cx="958.3" cy="68.0" r="7.3"/><circle cx="959.2" cy="67.6" r="7.3"/><circle cx="960.1" cy="68.3" r="7.3"/><circle cx="960.9" cy="69.1" r="7.3"/><circle cx="961.8" cy="68.8" r="7.3"/><circle cx="962.7" cy="68.9" r="7.3"/><circle cx="963.6" cy="68.4" r="7.3"/><circle cx="964.5" cy="69.1" r="7.3"/><circle cx="965.3" cy="69.3" r="7.3"/><circle cx="966.2" cy="68.7" r="7.3"/><circle cx="967.1" cy="69.1" r="7.3"/><circle cx="968.0" cy="69.1" r="7.3"/><circle cx="968.9" cy="69.1" r="7.3"/><circle cx="969.7" cy="69.0" r="7.3"/><circle cx="970.6" cy="68.5" r="7.3"/><circle cx="971.5" cy="68.2" r="7.3"/><circle cx="972.4" cy="68.4" r="7.3"/><circle cx="973.3" cy="68.3" r="7.3"/><circle cx="974.1" cy="67.9" r="7.3"/><circle cx="975.0" cy="68.8" r="7.3"/><circle cx="975.9" cy="68.6" r="7.3"/><circle cx="976.8" cy="68.2" r="7.3"/><circle cx="977.7" cy="67.9" r="7.3"/><circle cx="978.5" cy="68.2" r="7.3"/><circle cx="979.4" cy="68.6" r="7.3"/><circle cx="980.3" cy="68.6" r="7.3"/><circle cx="981.2" cy="68.9" r="7.3"/><circle cx="982.1" cy="68.1" r="7.3"/><circle cx="982.9" cy="67.9" r="7.3"/><circle cx="983.8" cy="67.7" r="7.3"/><circle cx="984.7" cy="67.8" r="7.3"/><circle cx="985.6" cy="68.1" r="7.3"/><circle cx="986.5" cy="67.2" r="7.3"/><circle cx="987.3" cy="68.7" r="7.3"/><circle cx="988.2" cy="68.2" r="7.3"/></g>
<g clip-path="url(#clipA)" fill="url(#gb)"><circle cx="113.5" cy="94.5" r="7"/><circle cx="114.4" cy="97.1" r="7"/><circle cx="115.3" cy="96.7" r="7"/><circle cx="116.1" cy="91.5" r="7"/><circle cx="117.0" cy="90.2" r="7"/><circle cx="117.9" cy="94.7" r="7"/><circle cx="118.8" cy="88.3" r="7"/><circle cx="119.7" cy="93.2" r="7"/><circle cx="120.5" cy="94.7" r="7"/><circle cx="121.4" cy="92.1" r="7"/><circle cx="122.3" cy="89.7" r="7"/><circle cx="123.2" cy="88.6" r="7"/><circle cx="124.1" cy="87.9" r="7"/><circle cx="124.9" cy="89.3" r="7"/><circle cx="125.8" cy="90.2" r="7"/><circle cx="126.7" cy="90.8" r="7"/><circle cx="127.6" cy="94.5" r="7"/><circle cx="128.5" cy="94.1" r="7"/><circle cx="129.3" cy="92.4" r="7"/><circle cx="130.2" cy="94.1" r="7"/><circle cx="131.1" cy="90.0" r="7"/><circle cx="132.0" cy="88.2" r="7"/><circle cx="132.9" cy="91.6" r="7"/><circle cx="133.7" cy="88.3" r="7"/><circle cx="134.6" cy="88.5" r="7"/><circle cx="135.5" cy="91.5" r="7"/><circle cx="136.4" cy="92.9" r="7"/><circle cx="137.3" cy="97.8" r="7"/><circle cx="138.1" cy="97.3" r="7"/><circle cx="139.0" cy="96.4" r="7"/><circle cx="139.9" cy="96.3" r="7"/><circle cx="140.8" cy="94.2" r="7"/><circle cx="141.7" cy="92.2" r="7"/><circle cx="142.5" cy="92.7" r="7"/><circle cx="143.4" cy="98.2" r="7"/><circle cx="144.3" cy="95.7" r="7"/><circle cx="145.2" cy="96.7" r="7"/><circle cx="146.1" cy="94.3" r="7"/><circle cx="146.9" cy="100.8" r="7"/><circle cx="147.8" cy="96.7" r="7"/><circle cx="148.7" cy="96.6" r="7"/><circle cx="149.6" cy="102.8" r="7"/><circle cx="150.5" cy="101.5" r="7"/><circle cx="151.3" cy="104.5" r="7"/><circle cx="152.2" cy="103.7" r="7"/><circle cx="153.1" cy="104.5" r="7"/><circle cx="154.0" cy="98.5" r="7"/><circle cx="154.9" cy="101.0" r="7"/><circle cx="155.7" cy="101.7" r="7"/><circle cx="156.6" cy="105.8" r="7"/><circle cx="157.5" cy="102.2" r="7"/><circle cx="158.4" cy="103.5" r="7"/><circle cx="159.3" cy="98.7" r="7"/><circle cx="160.1" cy="100.5" r="7"/><circle cx="161.0" cy="100.6" r="7"/><circle cx="161.9" cy="99.1" r="7"/><circle cx="162.8" cy="105.6" r="7"/><circle cx="163.7" cy="103.5" r="7"/><circle cx="164.5" cy="109.4" r="7"/><circle cx="165.4" cy="107.5" r="7"/><circle cx="166.3" cy="107.2" r="7"/><circle cx="167.2" cy="107.6" r="7"/><circle cx="168.1" cy="108.4" r="7"/><circle cx="168.9" cy="103.0" r="7"/><circle cx="169.8" cy="104.6" r="7"/><circle cx="170.7" cy="103.0" r="7"/><circle cx="171.6" cy="104.5" r="7"/><circle cx="172.5" cy="101.6" r="7"/><circle cx="173.3" cy="111.0" r="7"/><circle cx="174.2" cy="105.6" r="7"/><circle cx="175.1" cy="109.3" r="7"/><circle cx="176.0" cy="106.1" r="7"/><circle cx="176.9" cy="112.0" r="7"/><circle cx="177.7" cy="111.6" r="7"/><circle cx="178.6" cy="105.0" r="7"/><circle cx="179.5" cy="111.5" r="7"/><circle cx="180.4" cy="114.7" r="7"/><circle cx="181.3" cy="114.8" r="7"/><circle cx="182.1" cy="112.2" r="7"/><circle cx="183.0" cy="105.6" r="7"/><circle cx="183.9" cy="103.9" r="7"/><circle cx="184.8" cy="112.6" r="7"/><circle cx="185.7" cy="111.0" r="7"/><circle cx="186.5" cy="105.8" r="7"/><circle cx="187.4" cy="113.0" r="7"/><circle cx="188.3" cy="112.5" r="7"/><circle cx="189.2" cy="111.4" r="7"/><circle cx="190.1" cy="108.6" r="7"/><circle cx="190.9" cy="108.1" r="7"/><circle cx="191.8" cy="105.8" r="7"/><circle cx="192.7" cy="103.4" r="7"/><circle cx="193.6" cy="112.1" r="7"/><circle cx="194.5" cy="110.3" r="7"/><circle cx="195.3" cy="110.8" r="7"/><circle cx="196.2" cy="108.1" r="7"/><circle cx="197.1" cy="112.7" r="7"/><circle cx="198.0" cy="105.2" r="7"/><circle cx="198.9" cy="107.0" r="7"/><circle cx="199.7" cy="104.3" r="7"/><circle cx="200.6" cy="104.4" r="7"/><circle cx="201.5" cy="113.9" r="7"/><circle cx="202.4" cy="113.8" r="7"/><circle cx="203.3" cy="111.0" r="7"/><circle cx="204.1" cy="111.3" r="7"/><circle cx="205.0" cy="115.6" r="7"/><circle cx="205.9" cy="111.0" r="7"/><circle cx="206.8" cy="112.4" r="7"/><circle cx="207.7" cy="114.2" r="7"/><circle cx="208.5" cy="111.1" r="7"/><circle cx="209.4" cy="112.1" r="7"/><circle cx="210.3" cy="115.4" r="7"/><circle cx="211.2" cy="118.2" r="7"/><circle cx="212.1" cy="111.0" r="7"/><circle cx="212.9" cy="117.2" r="7"/><circle cx="213.8" cy="109.4" r="7"/><circle cx="214.7" cy="114.9" r="7"/><circle cx="215.6" cy="117.6" r="7"/><circle cx="216.5" cy="111.6" r="7"/><circle cx="217.3" cy="112.6" r="7"/><circle cx="218.2" cy="117.2" r="7"/><circle cx="219.1" cy="110.8" r="7"/><circle cx="220.0" cy="114.9" r="7"/><circle cx="220.9" cy="118.0" r="7"/><circle cx="221.7" cy="116.3" r="7"/><circle cx="222.6" cy="117.9" r="7"/><circle cx="223.5" cy="113.7" r="7"/><circle cx="224.4" cy="112.2" r="7"/><circle cx="225.3" cy="113.2" r="7"/><circle cx="226.1" cy="112.0" r="7"/><circle cx="227.0" cy="113.2" r="7"/><circle cx="227.9" cy="119.1" r="7"/><circle cx="228.8" cy="117.9" r="7"/><circle cx="229.7" cy="115.5" r="7"/><circle cx="230.5" cy="114.2" r="7"/><circle cx="231.4" cy="119.6" r="7"/><circle cx="232.3" cy="117.2" r="7"/><circle cx="233.2" cy="120.9" r="7"/><circle cx="234.1" cy="118.4" r="7"/><circle cx="234.9" cy="117.7" r="7"/><circle cx="235.8" cy="120.2" r="7"/><circle cx="236.7" cy="119.7" r="7"/><circle cx="237.6" cy="118.0" r="7"/><circle cx="238.5" cy="116.0" r="7"/><circle cx="239.3" cy="119.0" r="7"/><circle cx="240.2" cy="115.8" r="7"/><circle cx="241.1" cy="119.0" r="7"/><circle cx="242.0" cy="112.3" r="7"/><circle cx="242.9" cy="113.0" r="7"/><circle cx="243.7" cy="113.9" r="7"/><circle cx="244.6" cy="118.2" r="7"/><circle cx="245.5" cy="112.8" r="7"/><circle cx="246.4" cy="116.2" r="7"/><circle cx="247.3" cy="115.9" r="7"/><circle cx="248.1" cy="116.1" r="7"/><circle cx="249.0" cy="115.4" r="7"/><circle cx="249.9" cy="118.0" r="7"/><circle cx="250.8" cy="113.3" r="7"/><circle cx="251.7" cy="112.1" r="7"/><circle cx="252.5" cy="109.7" r="7"/><circle cx="253.4" cy="108.0" r="7"/><circle cx="254.3" cy="108.2" r="7"/><circle cx="255.2" cy="115.5" r="7"/><circle cx="256.1" cy="117.3" r="7"/><circle cx="256.9" cy="110.6" r="7"/><circle cx="257.8" cy="113.2" r="7"/><circle cx="258.7" cy="113.6" r="7"/><circle cx="259.6" cy="115.5" r="7"/><circle cx="260.5" cy="117.5" r="7"/><circle cx="261.3" cy="115.0" r="7"/><circle cx="262.2" cy="121.7" r="7"/><circle cx="263.1" cy="119.3" r="7"/><circle cx="264.0" cy="120.9" r="7"/><circle cx="264.9" cy="122.1" r="7"/><circle cx="265.7" cy="117.9" r="7"/><circle cx="266.6" cy="115.8" r="7"/><circle cx="267.5" cy="119.3" r="7"/><circle cx="268.4" cy="125.3" r="7"/><circle cx="269.3" cy="128.3" r="7"/><circle cx="270.1" cy="128.7" r="7"/><circle cx="271.0" cy="122.1" r="7"/><circle cx="271.9" cy="129.3" r="7"/><circle cx="272.8" cy="130.9" r="7"/><circle cx="273.7" cy="131.6" r="7"/><circle cx="274.5" cy="127.9" r="7"/><circle cx="275.4" cy="130.4" r="7"/><circle cx="276.3" cy="121.9" r="7"/><circle cx="277.2" cy="119.3" r="7"/><circle cx="278.1" cy="119.0" r="7"/><circle cx="278.9" cy="118.8" r="7"/><circle cx="279.8" cy="119.0" r="7"/><circle cx="280.7" cy="118.3" r="7"/><circle cx="281.6" cy="121.3" r="7"/><circle cx="282.5" cy="117.3" r="7"/><circle cx="283.3" cy="120.7" r="7"/><circle cx="284.2" cy="118.1" r="7"/><circle cx="285.1" cy="121.6" r="7"/><circle cx="286.0" cy="117.0" r="7"/><circle cx="286.9" cy="117.9" r="7"/><circle cx="287.7" cy="123.5" r="7"/><circle cx="288.6" cy="121.9" r="7"/><circle cx="289.5" cy="123.6" r="7"/><circle cx="290.4" cy="122.8" r="7"/><circle cx="291.3" cy="122.0" r="7"/><circle cx="292.1" cy="118.2" r="7"/><circle cx="293.0" cy="119.9" r="7"/><circle cx="293.9" cy="116.7" r="7"/><circle cx="294.8" cy="122.0" r="7"/><circle cx="295.7" cy="125.3" r="7"/><circle cx="296.5" cy="125.7" r="7"/><circle cx="297.4" cy="120.0" r="7"/><circle cx="298.3" cy="120.5" r="7"/><circle cx="299.2" cy="120.7" r="7"/><circle cx="300.1" cy="119.5" r="7"/><circle cx="300.9" cy="123.4" r="7"/><circle cx="301.8" cy="126.4" r="7"/><circle cx="302.7" cy="123.9" r="7"/><circle cx="303.6" cy="127.6" r="7"/><circle cx="304.5" cy="128.7" r="7"/><circle cx="305.3" cy="124.0" r="7"/><circle cx="306.2" cy="127.7" r="7"/><circle cx="307.1" cy="130.2" r="7"/><circle cx="308.0" cy="125.9" r="7"/><circle cx="308.9" cy="127.6" r="7"/><circle cx="309.7" cy="129.1" r="7"/><circle cx="310.6" cy="129.6" r="7"/><circle cx="311.5" cy="126.0" r="7"/><circle cx="312.4" cy="129.4" r="7"/><circle cx="313.3" cy="130.7" r="7"/><circle cx="314.1" cy="132.8" r="7"/><circle cx="315.0" cy="133.7" r="7"/><circle cx="315.9" cy="130.6" r="7"/><circle cx="316.8" cy="132.8" r="7"/><circle cx="317.7" cy="134.9" r="7"/><circle cx="318.5" cy="135.7" r="7"/><circle cx="319.4" cy="131.3" r="7"/><circle cx="320.3" cy="129.1" r="7"/><circle cx="321.2" cy="133.0" r="7"/><circle cx="322.1" cy="131.5" r="7"/><circle cx="322.9" cy="133.8" r="7"/><circle cx="323.8" cy="137.6" r="7"/><circle cx="324.7" cy="135.1" r="7"/><circle cx="325.6" cy="133.6" r="7"/><circle cx="326.5" cy="134.8" r="7"/><circle cx="327.3" cy="136.8" r="7"/><circle cx="328.2" cy="133.8" r="7"/><circle cx="329.1" cy="134.9" r="7"/><circle cx="330.0" cy="133.8" r="7"/><circle cx="330.9" cy="137.4" r="7"/><circle cx="331.7" cy="140.2" r="7"/><circle cx="332.6" cy="138.0" r="7"/><circle cx="333.5" cy="137.5" r="7"/><circle cx="334.4" cy="138.7" r="7"/><circle cx="335.3" cy="136.9" r="7"/><circle cx="336.1" cy="136.8" r="7"/><circle cx="337.0" cy="137.5" r="7"/><circle cx="337.9" cy="139.0" r="7"/><circle cx="338.8" cy="136.8" r="7"/><circle cx="339.7" cy="141.6" r="7"/><circle cx="340.5" cy="142.1" r="7"/><circle cx="341.4" cy="140.1" r="7"/><circle cx="342.3" cy="137.7" r="7"/><circle cx="343.2" cy="142.8" r="7"/><circle cx="344.1" cy="139.4" r="7"/><circle cx="344.9" cy="138.4" r="7"/><circle cx="345.8" cy="138.5" r="7"/><circle cx="346.7" cy="138.7" r="7"/><circle cx="347.6" cy="145.1" r="7"/><circle cx="348.5" cy="142.2" r="7"/><circle cx="349.3" cy="141.6" r="7"/><circle cx="350.2" cy="146.5" r="7"/><circle cx="351.1" cy="146.4" r="7"/><circle cx="352.0" cy="142.5" r="7"/><circle cx="352.9" cy="143.6" r="7"/><circle cx="353.7" cy="148.5" r="7"/><circle cx="354.6" cy="145.5" r="7"/><circle cx="355.5" cy="147.9" r="7"/><circle cx="356.4" cy="142.8" r="7"/><circle cx="357.3" cy="147.7" r="7"/><circle cx="358.1" cy="150.1" r="7"/><circle cx="359.0" cy="151.8" r="7"/><circle cx="359.9" cy="151.0" r="7"/><circle cx="360.8" cy="147.9" r="7"/><circle cx="361.7" cy="143.7" r="7"/><circle cx="362.5" cy="147.3" r="7"/><circle cx="363.4" cy="151.4" r="7"/><circle cx="364.3" cy="146.9" r="7"/><circle cx="365.2" cy="146.4" r="7"/><circle cx="366.1" cy="149.4" r="7"/><circle cx="366.9" cy="153.1" r="7"/><circle cx="367.8" cy="156.3" r="7"/><circle cx="368.7" cy="149.0" r="7"/><circle cx="369.6" cy="147.3" r="7"/><circle cx="370.5" cy="154.0" r="7"/><circle cx="371.3" cy="154.8" r="7"/><circle cx="372.2" cy="156.2" r="7"/><circle cx="373.1" cy="159.1" r="7"/><circle cx="374.0" cy="159.5" r="7"/><circle cx="374.9" cy="159.9" r="7"/><circle cx="375.7" cy="160.1" r="7"/><circle cx="376.6" cy="155.5" r="7"/><circle cx="377.5" cy="157.2" r="7"/><circle cx="378.4" cy="152.4" r="7"/><circle cx="379.3" cy="158.1" r="7"/><circle cx="380.1" cy="160.4" r="7"/><circle cx="381.0" cy="161.1" r="7"/><circle cx="381.9" cy="158.0" r="7"/><circle cx="382.8" cy="156.3" r="7"/><circle cx="383.7" cy="156.5" r="7"/><circle cx="384.5" cy="151.8" r="7"/><circle cx="385.4" cy="161.1" r="7"/><circle cx="386.3" cy="160.6" r="7"/><circle cx="387.2" cy="158.6" r="7"/><circle cx="388.1" cy="160.4" r="7"/><circle cx="388.9" cy="163.7" r="7"/><circle cx="389.8" cy="160.4" r="7"/><circle cx="390.7" cy="165.6" r="7"/><circle cx="391.6" cy="168.3" r="7"/><circle cx="392.5" cy="162.3" r="7"/><circle cx="393.3" cy="156.4" r="7"/><circle cx="394.2" cy="163.5" r="7"/><circle cx="395.1" cy="169.0" r="7"/><circle cx="396.0" cy="159.1" r="7"/><circle cx="396.9" cy="164.1" r="7"/><circle cx="397.7" cy="167.7" r="7"/><circle cx="398.6" cy="169.7" r="7"/><circle cx="399.5" cy="159.0" r="7"/><circle cx="400.4" cy="154.5" r="7"/><circle cx="401.3" cy="167.2" r="7"/><circle cx="402.1" cy="157.9" r="7"/><circle cx="403.0" cy="155.7" r="7"/><circle cx="403.9" cy="161.3" r="7"/><circle cx="404.8" cy="161.3" r="7"/><circle cx="405.7" cy="166.0" r="7"/><circle cx="406.5" cy="159.1" r="7"/><circle cx="407.4" cy="167.8" r="7"/><circle cx="408.3" cy="160.3" r="7"/><circle cx="409.2" cy="166.1" r="7"/><circle cx="410.1" cy="157.6" r="7"/><circle cx="410.9" cy="160.8" r="7"/><circle cx="411.8" cy="155.8" r="7"/><circle cx="412.7" cy="157.8" r="7"/><circle cx="413.6" cy="158.7" r="7"/><circle cx="414.5" cy="165.0" r="7"/><circle cx="415.3" cy="163.4" r="7"/><circle cx="416.2" cy="157.2" r="7"/><circle cx="417.1" cy="168.6" r="7"/><circle cx="418.0" cy="170.9" r="7"/><circle cx="418.9" cy="170.9" r="7"/><circle cx="419.7" cy="163.3" r="7"/><circle cx="420.6" cy="162.3" r="7"/><circle cx="421.5" cy="159.7" r="7"/><circle cx="422.4" cy="157.5" r="7"/><circle cx="423.3" cy="157.4" r="7"/><circle cx="424.1" cy="161.3" r="7"/><circle cx="425.0" cy="158.3" r="7"/><circle cx="425.9" cy="158.0" r="7"/><circle cx="426.8" cy="167.0" r="7"/><circle cx="427.7" cy="165.2" r="7"/><circle cx="428.5" cy="160.7" r="7"/><circle cx="429.4" cy="165.5" r="7"/><circle cx="430.3" cy="162.0" r="7"/><circle cx="431.2" cy="164.2" r="7"/><circle cx="432.1" cy="161.9" r="7"/><circle cx="432.9" cy="164.1" r="7"/><circle cx="433.8" cy="166.2" r="7"/><circle cx="434.7" cy="165.9" r="7"/><circle cx="435.6" cy="164.1" r="7"/><circle cx="436.5" cy="168.2" r="7"/><circle cx="437.3" cy="170.5" r="7"/><circle cx="438.2" cy="163.5" r="7"/><circle cx="439.1" cy="160.7" r="7"/><circle cx="440.0" cy="160.0" r="7"/><circle cx="440.9" cy="168.4" r="7"/><circle cx="441.7" cy="170.6" r="7"/><circle cx="442.6" cy="164.7" r="7"/><circle cx="443.5" cy="169.9" r="7"/><circle cx="444.4" cy="164.3" r="7"/><circle cx="445.3" cy="165.3" r="7"/><circle cx="446.1" cy="165.6" r="7"/><circle cx="447.0" cy="169.4" r="7"/><circle cx="447.9" cy="163.2" r="7"/><circle cx="448.8" cy="163.5" r="7"/><circle cx="449.7" cy="165.9" r="7"/><circle cx="450.5" cy="162.6" r="7"/><circle cx="451.4" cy="162.8" r="7"/><circle cx="452.3" cy="164.6" r="7"/><circle cx="453.2" cy="168.4" r="7"/><circle cx="454.1" cy="168.8" r="7"/><circle cx="454.9" cy="169.4" r="7"/><circle cx="455.8" cy="169.0" r="7"/><circle cx="456.7" cy="168.5" r="7"/><circle cx="457.6" cy="169.3" r="7"/><circle cx="458.5" cy="168.4" r="7"/><circle cx="459.3" cy="168.4" r="7"/><circle cx="460.2" cy="165.5" r="7"/><circle cx="461.1" cy="163.7" r="7"/><circle cx="462.0" cy="166.8" r="7"/><circle cx="462.9" cy="164.2" r="7"/><circle cx="463.7" cy="168.0" r="7"/><circle cx="464.6" cy="167.3" r="7"/><circle cx="465.5" cy="165.6" r="7"/><circle cx="466.4" cy="169.0" r="7"/><circle cx="467.3" cy="165.4" r="7"/><circle cx="468.1" cy="166.7" r="7"/><circle cx="469.0" cy="164.3" r="7"/><circle cx="469.9" cy="169.9" r="7"/><circle cx="470.8" cy="169.3" r="7"/><circle cx="471.7" cy="171.1" r="7"/><circle cx="472.5" cy="167.8" r="7"/><circle cx="473.4" cy="171.0" r="7"/><circle cx="474.3" cy="171.6" r="7"/><circle cx="475.2" cy="171.6" r="7"/><circle cx="476.1" cy="174.2" r="7"/><circle cx="476.9" cy="171.1" r="7"/><circle cx="477.8" cy="169.9" r="7"/><circle cx="478.7" cy="172.3" r="7"/><circle cx="479.6" cy="174.8" r="7"/><circle cx="480.5" cy="170.7" r="7"/><circle cx="481.3" cy="172.4" r="7"/><circle cx="482.2" cy="168.4" r="7"/><circle cx="483.1" cy="170.3" r="7"/><circle cx="484.0" cy="173.0" r="7"/><circle cx="484.9" cy="167.1" r="7"/><circle cx="485.7" cy="171.3" r="7"/><circle cx="486.6" cy="165.9" r="7"/><circle cx="487.5" cy="172.9" r="7"/><circle cx="488.4" cy="170.6" r="7"/><circle cx="489.3" cy="169.2" r="7"/><circle cx="490.1" cy="171.5" r="7"/><circle cx="491.0" cy="170.5" r="7"/><circle cx="491.9" cy="171.9" r="7"/><circle cx="492.8" cy="166.6" r="7"/><circle cx="493.7" cy="168.9" r="7"/><circle cx="494.5" cy="169.6" r="7"/><circle cx="495.4" cy="172.9" r="7"/><circle cx="496.3" cy="166.6" r="7"/><circle cx="497.2" cy="167.8" r="7"/><circle cx="498.1" cy="169.6" r="7"/><circle cx="498.9" cy="169.5" r="7"/><circle cx="499.8" cy="165.8" r="7"/><circle cx="500.7" cy="168.4" r="7"/><circle cx="501.6" cy="166.5" r="7"/><circle cx="502.5" cy="165.7" r="7"/><circle cx="503.3" cy="170.3" r="7"/><circle cx="504.2" cy="167.5" r="7"/><circle cx="505.1" cy="168.6" r="7"/><circle cx="506.0" cy="171.5" r="7"/><circle cx="506.9" cy="172.6" r="7"/><circle cx="507.7" cy="172.0" r="7"/><circle cx="508.6" cy="174.2" r="7"/><circle cx="509.5" cy="172.5" r="7"/><circle cx="510.4" cy="173.4" r="7"/><circle cx="511.3" cy="175.7" r="7"/><circle cx="512.1" cy="175.7" r="7"/><circle cx="513.0" cy="175.7" r="7"/><circle cx="513.9" cy="173.9" r="7"/><circle cx="514.8" cy="174.9" r="7"/><circle cx="515.7" cy="174.1" r="7"/><circle cx="516.5" cy="177.2" r="7"/><circle cx="517.4" cy="175.4" r="7"/><circle cx="518.3" cy="175.9" r="7"/><circle cx="519.2" cy="178.8" r="7"/><circle cx="520.1" cy="178.0" r="7"/><circle cx="520.9" cy="176.7" r="7"/><circle cx="521.8" cy="180.6" r="7"/><circle cx="522.7" cy="178.6" r="7"/><circle cx="523.6" cy="182.0" r="7"/><circle cx="524.5" cy="183.0" r="7"/><circle cx="525.3" cy="180.7" r="7"/><circle cx="526.2" cy="181.9" r="7"/><circle cx="527.1" cy="177.1" r="7"/><circle cx="528.0" cy="178.2" r="7"/><circle cx="528.9" cy="182.0" r="7"/><circle cx="529.7" cy="181.2" r="7"/><circle cx="530.6" cy="180.8" r="7"/><circle cx="531.5" cy="181.4" r="7"/><circle cx="532.4" cy="181.6" r="7"/><circle cx="533.3" cy="181.1" r="7"/><circle cx="534.1" cy="179.9" r="7"/><circle cx="535.0" cy="178.1" r="7"/><circle cx="535.9" cy="177.9" r="7"/><circle cx="536.8" cy="177.8" r="7"/><circle cx="537.7" cy="178.4" r="7"/><circle cx="538.5" cy="181.8" r="7"/><circle cx="539.4" cy="179.2" r="7"/><circle cx="540.3" cy="178.7" r="7"/><circle cx="541.2" cy="178.0" r="7"/><circle cx="542.1" cy="178.8" r="7"/><circle cx="542.9" cy="180.9" r="7"/><circle cx="543.8" cy="181.0" r="7"/><circle cx="544.7" cy="178.5" r="7"/><circle cx="545.6" cy="176.9" r="7"/><circle cx="546.5" cy="179.4" r="7"/><circle cx="547.3" cy="178.1" r="7"/><circle cx="548.2" cy="178.7" r="7"/><circle cx="549.1" cy="176.2" r="7"/><circle cx="550.0" cy="179.5" r="7"/><circle cx="550.9" cy="178.1" r="7"/><circle cx="551.7" cy="178.7" r="7"/><circle cx="552.6" cy="177.6" r="7"/><circle cx="553.5" cy="178.6" r="7"/><circle cx="554.4" cy="181.3" r="7"/><circle cx="555.3" cy="182.6" r="7"/><circle cx="556.1" cy="181.3" r="7"/><circle cx="557.0" cy="182.7" r="7"/><circle cx="557.9" cy="181.7" r="7"/><circle cx="558.8" cy="181.0" r="7"/><circle cx="559.7" cy="182.0" r="7"/><circle cx="560.5" cy="180.6" r="7"/><circle cx="561.4" cy="181.0" r="7"/><circle cx="562.3" cy="183.6" r="7"/><circle cx="563.2" cy="185.1" r="7"/><circle cx="564.1" cy="181.6" r="7"/><circle cx="564.9" cy="184.7" r="7"/><circle cx="565.8" cy="186.4" r="7"/><circle cx="566.7" cy="185.0" r="7"/><circle cx="567.6" cy="182.4" r="7"/><circle cx="568.5" cy="185.3" r="7"/><circle cx="569.3" cy="184.0" r="7"/><circle cx="570.2" cy="186.0" r="7"/><circle cx="571.1" cy="185.4" r="7"/><circle cx="572.0" cy="186.8" r="7"/><circle cx="572.9" cy="185.4" r="7"/><circle cx="573.7" cy="186.3" r="7"/><circle cx="574.6" cy="187.1" r="7"/><circle cx="575.5" cy="188.1" r="7"/><circle cx="576.4" cy="186.3" r="7"/><circle cx="577.3" cy="190.0" r="7"/><circle cx="578.1" cy="187.8" r="7"/><circle cx="579.0" cy="187.4" r="7"/><circle cx="579.9" cy="187.2" r="7"/><circle cx="580.8" cy="186.5" r="7"/><circle cx="581.7" cy="188.0" r="7"/><circle cx="582.5" cy="190.6" r="7"/><circle cx="583.4" cy="191.4" r="7"/><circle cx="584.3" cy="189.2" r="7"/><circle cx="585.2" cy="188.4" r="7"/><circle cx="586.1" cy="189.1" r="7"/><circle cx="586.9" cy="191.7" r="7"/><circle cx="587.8" cy="191.3" r="7"/><circle cx="588.7" cy="193.6" r="7"/><circle cx="589.6" cy="193.1" r="7"/><circle cx="590.5" cy="192.9" r="7"/><circle cx="591.3" cy="193.7" r="7"/><circle cx="592.2" cy="194.1" r="7"/><circle cx="593.1" cy="192.1" r="7"/><circle cx="594.0" cy="191.1" r="7"/><circle cx="594.9" cy="191.9" r="7"/><circle cx="595.7" cy="192.5" r="7"/><circle cx="596.6" cy="191.0" r="7"/><circle cx="597.5" cy="192.2" r="7"/><circle cx="598.4" cy="193.8" r="7"/><circle cx="599.3" cy="191.7" r="7"/><circle cx="600.1" cy="191.1" r="7"/><circle cx="601.0" cy="191.2" r="7"/><circle cx="601.9" cy="192.0" r="7"/><circle cx="602.8" cy="196.3" r="7"/><circle cx="603.7" cy="192.5" r="7"/><circle cx="604.5" cy="192.2" r="7"/><circle cx="605.4" cy="192.1" r="7"/><circle cx="606.3" cy="194.0" r="7"/><circle cx="607.2" cy="192.4" r="7"/><circle cx="608.1" cy="194.2" r="7"/><circle cx="608.9" cy="193.3" r="7"/><circle cx="609.8" cy="193.7" r="7"/><circle cx="610.7" cy="197.1" r="7"/><circle cx="611.6" cy="194.7" r="7"/><circle cx="612.5" cy="196.6" r="7"/><circle cx="613.3" cy="196.1" r="7"/><circle cx="614.2" cy="196.1" r="7"/><circle cx="615.1" cy="198.8" r="7"/><circle cx="616.0" cy="195.5" r="7"/><circle cx="616.9" cy="199.6" r="7"/><circle cx="617.7" cy="200.8" r="7"/><circle cx="618.6" cy="200.0" r="7"/><circle cx="619.5" cy="195.5" r="7"/><circle cx="620.4" cy="198.3" r="7"/><circle cx="621.3" cy="199.0" r="7"/><circle cx="622.1" cy="200.6" r="7"/><circle cx="623.0" cy="197.2" r="7"/><circle cx="623.9" cy="201.5" r="7"/><circle cx="624.8" cy="202.5" r="7"/><circle cx="625.7" cy="197.5" r="7"/><circle cx="626.5" cy="197.2" r="7"/><circle cx="627.4" cy="195.5" r="7"/><circle cx="628.3" cy="200.5" r="7"/><circle cx="629.2" cy="203.3" r="7"/><circle cx="630.1" cy="203.8" r="7"/><circle cx="630.9" cy="202.7" r="7"/><circle cx="631.8" cy="202.6" r="7"/><circle cx="632.7" cy="202.9" r="7"/><circle cx="633.6" cy="202.4" r="7"/><circle cx="634.5" cy="205.6" r="7"/><circle cx="635.3" cy="204.1" r="7"/><circle cx="636.2" cy="201.3" r="7"/><circle cx="637.1" cy="202.1" r="7"/><circle cx="638.0" cy="198.0" r="7"/><circle cx="638.9" cy="203.4" r="7"/><circle cx="639.7" cy="205.3" r="7"/><circle cx="640.6" cy="203.5" r="7"/><circle cx="641.5" cy="207.4" r="7"/><circle cx="642.4" cy="208.1" r="7"/><circle cx="643.3" cy="204.2" r="7"/><circle cx="644.1" cy="200.2" r="7"/><circle cx="645.0" cy="199.7" r="7"/><circle cx="645.9" cy="200.0" r="7"/><circle cx="646.8" cy="201.3" r="7"/><circle cx="647.7" cy="203.2" r="7"/><circle cx="648.5" cy="209.0" r="7"/><circle cx="649.4" cy="203.9" r="7"/><circle cx="650.3" cy="208.6" r="7"/><circle cx="651.2" cy="207.9" r="7"/><circle cx="652.1" cy="209.3" r="7"/><circle cx="652.9" cy="204.9" r="7"/><circle cx="653.8" cy="199.2" r="7"/><circle cx="654.7" cy="205.2" r="7"/><circle cx="655.6" cy="201.6" r="7"/><circle cx="656.5" cy="199.2" r="7"/><circle cx="657.3" cy="205.0" r="7"/><circle cx="658.2" cy="205.7" r="7"/><circle cx="659.1" cy="201.1" r="7"/><circle cx="660.0" cy="200.0" r="7"/><circle cx="660.9" cy="206.3" r="7"/><circle cx="661.7" cy="201.9" r="7"/><circle cx="662.6" cy="204.6" r="7"/><circle cx="663.5" cy="200.0" r="7"/><circle cx="664.4" cy="204.9" r="7"/><circle cx="665.3" cy="200.1" r="7"/><circle cx="666.1" cy="202.1" r="7"/><circle cx="667.0" cy="198.5" r="7"/><circle cx="667.9" cy="201.9" r="7"/><circle cx="668.8" cy="205.7" r="7"/><circle cx="669.7" cy="200.3" r="7"/><circle cx="670.5" cy="200.1" r="7"/><circle cx="671.4" cy="204.3" r="7"/><circle cx="672.3" cy="204.4" r="7"/><circle cx="673.2" cy="201.9" r="7"/><circle cx="674.1" cy="203.7" r="7"/><circle cx="674.9" cy="202.9" r="7"/><circle cx="675.8" cy="205.9" r="7"/><circle cx="676.7" cy="202.6" r="7"/><circle cx="677.6" cy="205.6" r="7"/><circle cx="678.5" cy="205.9" r="7"/><circle cx="679.3" cy="207.1" r="7"/><circle cx="680.2" cy="204.7" r="7"/><circle cx="681.1" cy="207.1" r="7"/><circle cx="682.0" cy="208.0" r="7"/><circle cx="682.9" cy="205.8" r="7"/><circle cx="683.7" cy="202.0" r="7"/><circle cx="684.6" cy="209.4" r="7"/><circle cx="685.5" cy="210.0" r="7"/><circle cx="686.4" cy="205.7" r="7"/><circle cx="687.3" cy="209.4" r="7"/><circle cx="688.1" cy="206.6" r="7"/><circle cx="689.0" cy="207.7" r="7"/><circle cx="689.9" cy="212.2" r="7"/><circle cx="690.8" cy="209.7" r="7"/><circle cx="691.7" cy="207.4" r="7"/><circle cx="692.5" cy="206.8" r="7"/><circle cx="693.4" cy="204.8" r="7"/><circle cx="694.3" cy="205.3" r="7"/><circle cx="695.2" cy="206.1" r="7"/><circle cx="696.1" cy="205.7" r="7"/><circle cx="696.9" cy="205.6" r="7"/><circle cx="697.8" cy="207.9" r="7"/><circle cx="698.7" cy="207.0" r="7"/><circle cx="699.6" cy="210.9" r="7"/><circle cx="700.5" cy="213.7" r="7"/><circle cx="701.3" cy="209.8" r="7"/><circle cx="702.2" cy="210.7" r="7"/><circle cx="703.1" cy="210.7" r="7"/><circle cx="704.0" cy="207.7" r="7"/><circle cx="704.9" cy="207.4" r="7"/><circle cx="705.7" cy="212.1" r="7"/><circle cx="706.6" cy="211.2" r="7"/><circle cx="707.5" cy="212.9" r="7"/><circle cx="708.4" cy="209.2" r="7"/><circle cx="709.3" cy="211.1" r="7"/><circle cx="710.1" cy="213.2" r="7"/><circle cx="711.0" cy="214.0" r="7"/><circle cx="711.9" cy="209.9" r="7"/><circle cx="712.8" cy="211.4" r="7"/><circle cx="713.7" cy="211.5" r="7"/><circle cx="714.5" cy="214.2" r="7"/><circle cx="715.4" cy="211.0" r="7"/><circle cx="716.3" cy="211.3" r="7"/><circle cx="717.2" cy="215.8" r="7"/><circle cx="718.1" cy="215.1" r="7"/><circle cx="718.9" cy="215.0" r="7"/><circle cx="719.8" cy="219.9" r="7"/><circle cx="720.7" cy="216.1" r="7"/><circle cx="721.6" cy="212.2" r="7"/><circle cx="722.5" cy="214.5" r="7"/><circle cx="723.3" cy="213.0" r="7"/><circle cx="724.2" cy="212.7" r="7"/><circle cx="725.1" cy="216.8" r="7"/><circle cx="726.0" cy="222.6" r="7"/><circle cx="726.9" cy="221.0" r="7"/><circle cx="727.7" cy="221.4" r="7"/><circle cx="728.6" cy="218.4" r="7"/><circle cx="729.5" cy="220.1" r="7"/><circle cx="730.4" cy="222.8" r="7"/><circle cx="731.3" cy="222.3" r="7"/><circle cx="732.1" cy="224.5" r="7"/><circle cx="733.0" cy="222.9" r="7"/><circle cx="733.9" cy="218.7" r="7"/><circle cx="734.8" cy="221.6" r="7"/><circle cx="735.7" cy="221.8" r="7"/><circle cx="736.5" cy="218.6" r="7"/><circle cx="737.4" cy="222.6" r="7"/><circle cx="738.3" cy="226.3" r="7"/><circle cx="739.2" cy="220.4" r="7"/><circle cx="740.1" cy="223.0" r="7"/><circle cx="740.9" cy="226.2" r="7"/><circle cx="741.8" cy="223.8" r="7"/><circle cx="742.7" cy="221.7" r="7"/><circle cx="743.6" cy="222.3" r="7"/><circle cx="744.5" cy="224.5" r="7"/><circle cx="745.3" cy="227.0" r="7"/><circle cx="746.2" cy="226.7" r="7"/><circle cx="747.1" cy="221.8" r="7"/><circle cx="748.0" cy="228.0" r="7"/><circle cx="748.9" cy="231.6" r="7"/><circle cx="749.7" cy="223.9" r="7"/><circle cx="750.6" cy="223.1" r="7"/><circle cx="751.5" cy="222.1" r="7"/><circle cx="752.4" cy="229.4" r="7"/><circle cx="753.3" cy="232.7" r="7"/><circle cx="754.1" cy="224.6" r="7"/><circle cx="755.0" cy="225.1" r="7"/><circle cx="755.9" cy="223.9" r="7"/><circle cx="756.8" cy="226.7" r="7"/><circle cx="757.7" cy="232.8" r="7"/><circle cx="758.5" cy="225.7" r="7"/><circle cx="759.4" cy="224.5" r="7"/><circle cx="760.3" cy="227.8" r="7"/><circle cx="761.2" cy="229.5" r="7"/><circle cx="762.1" cy="232.7" r="7"/><circle cx="762.9" cy="230.6" r="7"/><circle cx="763.8" cy="227.0" r="7"/><circle cx="764.7" cy="228.2" r="7"/><circle cx="765.6" cy="235.2" r="7"/><circle cx="766.5" cy="235.5" r="7"/><circle cx="767.3" cy="229.3" r="7"/><circle cx="768.2" cy="234.3" r="7"/><circle cx="769.1" cy="231.2" r="7"/><circle cx="770.0" cy="235.0" r="7"/><circle cx="770.9" cy="229.0" r="7"/><circle cx="771.7" cy="235.4" r="7"/><circle cx="772.6" cy="231.0" r="7"/><circle cx="773.5" cy="232.5" r="7"/><circle cx="774.4" cy="235.1" r="7"/><circle cx="775.3" cy="234.7" r="7"/><circle cx="776.1" cy="231.7" r="7"/><circle cx="777.0" cy="230.6" r="7"/><circle cx="777.9" cy="231.8" r="7"/><circle cx="778.8" cy="231.0" r="7"/><circle cx="779.7" cy="231.5" r="7"/><circle cx="780.5" cy="231.7" r="7"/><circle cx="781.4" cy="234.3" r="7"/><circle cx="782.3" cy="234.6" r="7"/><circle cx="783.2" cy="236.8" r="7"/><circle cx="784.1" cy="235.3" r="7"/><circle cx="784.9" cy="233.4" r="7"/><circle cx="785.8" cy="234.8" r="7"/><circle cx="786.7" cy="238.8" r="7"/><circle cx="787.6" cy="236.6" r="7"/><circle cx="788.5" cy="237.2" r="7"/><circle cx="789.3" cy="240.1" r="7"/><circle cx="790.2" cy="238.8" r="7"/><circle cx="791.1" cy="241.9" r="7"/><circle cx="792.0" cy="243.0" r="7"/><circle cx="792.9" cy="239.8" r="7"/><circle cx="793.7" cy="241.8" r="7"/><circle cx="794.6" cy="239.3" r="7"/><circle cx="795.5" cy="237.9" r="7"/><circle cx="796.4" cy="239.7" r="7"/><circle cx="797.3" cy="241.7" r="7"/><circle cx="798.1" cy="244.9" r="7"/><circle cx="799.0" cy="240.7" r="7"/><circle cx="799.9" cy="243.5" r="7"/><circle cx="800.8" cy="243.0" r="7"/><circle cx="801.7" cy="240.6" r="7"/><circle cx="802.5" cy="245.9" r="7"/><circle cx="803.4" cy="246.0" r="7"/><circle cx="804.3" cy="242.3" r="7"/><circle cx="805.2" cy="246.6" r="7"/><circle cx="806.1" cy="242.8" r="7"/><circle cx="806.9" cy="241.6" r="7"/><circle cx="807.8" cy="243.0" r="7"/><circle cx="808.7" cy="248.0" r="7"/><circle cx="809.6" cy="243.5" r="7"/><circle cx="810.5" cy="248.5" r="7"/><circle cx="811.3" cy="248.2" r="7"/><circle cx="812.2" cy="244.3" r="7"/><circle cx="813.1" cy="246.8" r="7"/><circle cx="814.0" cy="247.1" r="7"/><circle cx="814.9" cy="248.2" r="7"/><circle cx="815.7" cy="250.1" r="7"/><circle cx="816.6" cy="250.5" r="7"/><circle cx="817.5" cy="252.7" r="7"/><circle cx="818.4" cy="248.0" r="7"/><circle cx="819.3" cy="251.5" r="7"/><circle cx="820.1" cy="249.7" r="7"/><circle cx="821.0" cy="252.3" r="7"/><circle cx="821.9" cy="253.5" r="7"/><circle cx="822.8" cy="253.2" r="7"/><circle cx="823.7" cy="248.9" r="7"/><circle cx="824.5" cy="248.2" r="7"/><circle cx="825.4" cy="251.4" r="7"/><circle cx="826.3" cy="251.6" r="7"/><circle cx="827.2" cy="248.1" r="7"/><circle cx="828.1" cy="250.6" r="7"/><circle cx="828.9" cy="247.3" r="7"/><circle cx="829.8" cy="245.7" r="7"/><circle cx="830.7" cy="247.6" r="7"/><circle cx="831.6" cy="246.0" r="7"/><circle cx="832.5" cy="245.1" r="7"/><circle cx="833.3" cy="244.2" r="7"/><circle cx="834.2" cy="244.1" r="7"/><circle cx="835.1" cy="241.9" r="7"/><circle cx="836.0" cy="241.0" r="7"/><circle cx="836.9" cy="244.4" r="7"/><circle cx="837.7" cy="244.4" r="7"/><circle cx="838.6" cy="244.9" r="7"/><circle cx="839.5" cy="245.7" r="7"/><circle cx="840.4" cy="242.2" r="7"/><circle cx="841.3" cy="240.8" r="7"/><circle cx="842.1" cy="240.5" r="7"/><circle cx="843.0" cy="240.4" r="7"/><circle cx="843.9" cy="242.9" r="7"/><circle cx="844.8" cy="242.5" r="7"/><circle cx="845.7" cy="242.6" r="7"/><circle cx="846.5" cy="245.4" r="7"/><circle cx="847.4" cy="243.9" r="7"/><circle cx="848.3" cy="243.3" r="7"/><circle cx="849.2" cy="248.2" r="7"/><circle cx="850.1" cy="251.2" r="7"/><circle cx="850.9" cy="249.1" r="7"/><circle cx="851.8" cy="251.8" r="7"/><circle cx="852.7" cy="248.3" r="7"/><circle cx="853.6" cy="250.7" r="7"/><circle cx="854.5" cy="253.7" r="7"/><circle cx="855.3" cy="252.5" r="7"/><circle cx="856.2" cy="253.5" r="7"/><circle cx="857.1" cy="256.7" r="7"/><circle cx="858.0" cy="257.2" r="7"/><circle cx="858.9" cy="253.5" r="7"/><circle cx="859.7" cy="256.8" r="7"/><circle cx="860.6" cy="252.6" r="7"/><circle cx="861.5" cy="258.4" r="7"/><circle cx="862.4" cy="254.1" r="7"/><circle cx="863.3" cy="252.9" r="7"/><circle cx="864.1" cy="252.1" r="7"/><circle cx="865.0" cy="257.7" r="7"/><circle cx="865.9" cy="254.2" r="7"/><circle cx="866.8" cy="255.3" r="7"/><circle cx="867.7" cy="258.1" r="7"/><circle cx="868.5" cy="257.9" r="7"/><circle cx="869.4" cy="252.6" r="7"/><circle cx="870.3" cy="253.7" r="7"/><circle cx="871.2" cy="254.6" r="7"/><circle cx="872.1" cy="255.5" r="7"/><circle cx="872.9" cy="253.2" r="7"/><circle cx="873.8" cy="252.2" r="7"/><circle cx="874.7" cy="250.0" r="7"/><circle cx="875.6" cy="249.8" r="7"/><circle cx="876.5" cy="251.9" r="7"/><circle cx="877.3" cy="249.6" r="7"/><circle cx="878.2" cy="249.6" r="7"/><circle cx="879.1" cy="250.5" r="7"/><circle cx="880.0" cy="249.2" r="7"/><circle cx="880.9" cy="249.0" r="7"/><circle cx="881.7" cy="254.6" r="7"/><circle cx="882.6" cy="254.1" r="7"/><circle cx="883.5" cy="252.7" r="7"/><circle cx="884.4" cy="256.5" r="7"/><circle cx="885.3" cy="253.1" r="7"/><circle cx="886.1" cy="254.2" r="7"/><circle cx="887.0" cy="260.6" r="7"/><circle cx="887.9" cy="262.9" r="7"/><circle cx="888.8" cy="262.3" r="7"/><circle cx="889.7" cy="258.3" r="7"/><circle cx="890.5" cy="259.2" r="7"/><circle cx="891.4" cy="258.3" r="7"/><circle cx="892.3" cy="259.2" r="7"/><circle cx="893.2" cy="259.9" r="7"/><circle cx="894.1" cy="260.7" r="7"/><circle cx="894.9" cy="265.0" r="7"/><circle cx="895.8" cy="262.9" r="7"/><circle cx="896.7" cy="263.1" r="7"/><circle cx="897.6" cy="270.2" r="7"/><circle cx="898.5" cy="268.3" r="7"/><circle cx="899.3" cy="268.1" r="7"/><circle cx="900.2" cy="266.2" r="7"/><circle cx="901.1" cy="271.6" r="7"/><circle cx="902.0" cy="272.3" r="7"/><circle cx="902.9" cy="271.4" r="7"/><circle cx="903.7" cy="271.6" r="7"/><circle cx="904.6" cy="267.3" r="7"/><circle cx="905.5" cy="267.2" r="7"/><circle cx="906.4" cy="269.7" r="7"/><circle cx="907.3" cy="273.5" r="7"/><circle cx="908.1" cy="273.7" r="7"/><circle cx="909.0" cy="272.3" r="7"/><circle cx="909.9" cy="270.8" r="7"/><circle cx="910.8" cy="266.4" r="7"/><circle cx="911.7" cy="271.5" r="7"/><circle cx="912.5" cy="267.1" r="7"/><circle cx="913.4" cy="266.0" r="7"/><circle cx="914.3" cy="269.7" r="7"/><circle cx="915.2" cy="271.7" r="7"/><circle cx="916.1" cy="272.2" r="7"/><circle cx="916.9" cy="269.9" r="7"/><circle cx="917.8" cy="267.1" r="7"/><circle cx="918.7" cy="265.5" r="7"/><circle cx="919.6" cy="270.1" r="7"/><circle cx="920.5" cy="272.6" r="7"/><circle cx="921.3" cy="268.3" r="7"/><circle cx="922.2" cy="271.3" r="7"/><circle cx="923.1" cy="268.8" r="7"/><circle cx="924.0" cy="267.2" r="7"/><circle cx="924.9" cy="268.0" r="7"/><circle cx="925.7" cy="264.5" r="7"/><circle cx="926.6" cy="266.4" r="7"/><circle cx="927.5" cy="265.1" r="7"/><circle cx="928.4" cy="268.7" r="7"/><circle cx="929.3" cy="270.0" r="7"/><circle cx="930.1" cy="281.9" r="7"/><circle cx="931.0" cy="293.1" r="7"/><circle cx="931.9" cy="285.2" r="7"/><circle cx="932.8" cy="284.9" r="7"/><circle cx="933.7" cy="299.8" r="7"/><circle cx="934.5" cy="299.5" r="7"/><circle cx="935.4" cy="294.1" r="7"/><circle cx="936.3" cy="292.1" r="7"/><circle cx="937.2" cy="302.8" r="7"/><circle cx="938.1" cy="301.0" r="7"/><circle cx="938.9" cy="293.8" r="7"/><circle cx="939.8" cy="296.9" r="7"/><circle cx="940.7" cy="297.6" r="7"/><circle cx="941.6" cy="297.0" r="7"/><circle cx="942.5" cy="301.8" r="7"/><circle cx="943.3" cy="302.0" r="7"/><circle cx="944.2" cy="295.8" r="7"/><circle cx="945.1" cy="293.7" r="7"/><circle cx="946.0" cy="295.0" r="7"/><circle cx="946.9" cy="298.5" r="7"/><circle cx="947.7" cy="298.0" r="7"/><circle cx="948.6" cy="298.3" r="7"/><circle cx="949.5" cy="297.3" r="7"/><circle cx="950.4" cy="294.6" r="7"/><circle cx="951.3" cy="297.2" r="7"/><circle cx="952.1" cy="293.5" r="7"/><circle cx="953.0" cy="295.8" r="7"/><circle cx="953.9" cy="294.1" r="7"/><circle cx="954.8" cy="294.9" r="7"/><circle cx="955.7" cy="297.8" r="7"/><circle cx="956.5" cy="296.6" r="7"/><circle cx="957.4" cy="293.7" r="7"/><circle cx="958.3" cy="294.6" r="7"/><circle cx="959.2" cy="296.2" r="7"/><circle cx="960.1" cy="293.5" r="7"/><circle cx="960.9" cy="293.6" r="7"/><circle cx="961.8" cy="293.0" r="7"/><circle cx="962.7" cy="294.8" r="7"/><circle cx="963.6" cy="294.8" r="7"/><circle cx="964.5" cy="295.5" r="7"/><circle cx="965.3" cy="294.6" r="7"/><circle cx="966.2" cy="296.4" r="7"/><circle cx="967.1" cy="294.2" r="7"/><circle cx="968.0" cy="297.8" r="7"/><circle cx="968.9" cy="299.0" r="7"/><circle cx="969.7" cy="297.8" r="7"/><circle cx="970.6" cy="297.6" r="7"/><circle cx="971.5" cy="300.6" r="7"/><circle cx="972.4" cy="298.4" r="7"/><circle cx="973.3" cy="301.7" r="7"/><circle cx="974.1" cy="299.6" r="7"/><circle cx="975.0" cy="302.6" r="7"/><circle cx="975.9" cy="301.2" r="7"/><circle cx="976.8" cy="303.3" r="7"/><circle cx="977.7" cy="307.3" r="7"/><circle cx="978.5" cy="302.5" r="7"/><circle cx="979.4" cy="307.2" r="7"/><circle cx="980.3" cy="307.5" r="7"/><circle cx="981.2" cy="307.1" r="7"/><circle cx="982.1" cy="307.5" r="7"/><circle cx="982.9" cy="306.5" r="7"/><circle cx="983.8" cy="308.1" r="7"/><circle cx="984.7" cy="311.5" r="7"/><circle cx="985.6" cy="310.0" r="7"/><circle cx="986.5" cy="313.3" r="7"/><circle cx="987.3" cy="316.6" r="7"/><circle cx="988.2" cy="317.4" r="7"/></g>
<line x1="201.7" y1="119" x2="201.7" y2="151" stroke="#72A0D2" stroke-width="3" stroke-linecap="butt"/>
<line x1="218.2" y1="120" x2="218.2" y2="148.6" stroke="#72A0D2" stroke-width="3" stroke-linecap="butt"/>
<line x1="241.6" y1="124" x2="241.6" y2="151" stroke="#72A0D2" stroke-width="3" stroke-linecap="butt"/>
<line x1="273.2" y1="135" x2="273.2" y2="162.2" stroke="#72A0D2" stroke-width="3" stroke-linecap="butt"/>
<line x1="282.2" y1="135" x2="282.2" y2="158.4" stroke="#72A0D2" stroke-width="3" stroke-linecap="butt"/>
<line x1="319.1" y1="135" x2="319.1" y2="174.2" stroke="#72A0D2" stroke-width="3" stroke-linecap="butt"/>
<line x1="400.5" y1="173" x2="400.5" y2="204.7" stroke="#72A0D2" stroke-width="3" stroke-linecap="butt"/>
<line x1="521" y1="182" x2="521" y2="211.4" stroke="#72A0D2" stroke-width="3" stroke-linecap="butt"/>
<line x1="567.7" y1="190" x2="567.7" y2="228" stroke="#72A0D2" stroke-width="3" stroke-linecap="butt"/>
<line x1="691.2" y1="217" x2="691.2" y2="249.5" stroke="#72A0D2" stroke-width="3" stroke-linecap="butt"/>
<line x1="708.9" y1="217" x2="708.9" y2="248.7" stroke="#72A0D2" stroke-width="3" stroke-linecap="butt"/>
<line x1="904.1" y1="278" x2="904.1" y2="305.7" stroke="#72A0D2" stroke-width="3" stroke-linecap="butt"/>
<line x1="922.6" y1="276" x2="922.6" y2="305" stroke="#72A0D2" stroke-width="3" stroke-linecap="butt"/>
<line x1="932.2" y1="296" x2="932.2" y2="276" stroke="#72A0D2" stroke-width="3" stroke-linecap="butt"/>
<circle cx="201.7" cy="151" r="7" fill="url(#gb)"/>
<circle cx="218.2" cy="148.6" r="7" fill="url(#gb)"/>
<circle cx="241.6" cy="151" r="7" fill="url(#gb)"/>
<circle cx="273.2" cy="162.2" r="7" fill="url(#gb)"/>
<circle cx="282.2" cy="158.4" r="7" fill="url(#gb)"/>
<circle cx="319.1" cy="174.2" r="7" fill="url(#gb)"/>
<circle cx="400.5" cy="204.7" r="7" fill="url(#gb)"/>
<circle cx="521" cy="211.4" r="7" fill="url(#gb)"/>
<circle cx="567.7" cy="228" r="7" fill="url(#gb)"/>
<circle cx="691.2" cy="249.5" r="7" fill="url(#gb)"/>
<circle cx="708.9" cy="248.7" r="7" fill="url(#gb)"/>
<circle cx="904.1" cy="305.7" r="7" fill="url(#gb)"/>
<circle cx="922.6" cy="305" r="7" fill="url(#gb)"/>
<circle cx="932.2" cy="276" r="7" fill="url(#gb)"/>
<rect x="113" y="24" width="876" height="346" fill="none" stroke="#000" stroke-width="3.8"/>
<line x1="100" y1="370" x2="113" y2="370" stroke="#000" stroke-width="3.8" stroke-linecap="butt"/>
<line x1="106" y1="312.3" x2="113" y2="312.3" stroke="#000" stroke-width="3.8" stroke-linecap="butt"/>
<line x1="100" y1="254.7" x2="113" y2="254.7" stroke="#000" stroke-width="3.8" stroke-linecap="butt"/>
<line x1="106" y1="197" x2="113" y2="197" stroke="#000" stroke-width="3.8" stroke-linecap="butt"/>
<line x1="100" y1="139.3" x2="113" y2="139.3" stroke="#000" stroke-width="3.8" stroke-linecap="butt"/>
<line x1="106" y1="81.7" x2="113" y2="81.7" stroke="#000" stroke-width="3.8" stroke-linecap="butt"/>
<line x1="100" y1="24" x2="113" y2="24" stroke="#000" stroke-width="3.8" stroke-linecap="butt"/>
<line x1="113" y1="370" x2="113" y2="383" stroke="#000" stroke-width="3.8" stroke-linecap="butt"/>
<line x1="259" y1="370" x2="259" y2="377" stroke="#000" stroke-width="3.8" stroke-linecap="butt"/>
<line x1="405" y1="370" x2="405" y2="383" stroke="#000" stroke-width="3.8" stroke-linecap="butt"/>
<line x1="551" y1="370" x2="551" y2="377" stroke="#000" stroke-width="3.8" stroke-linecap="butt"/>
<line x1="697" y1="370" x2="697" y2="383" stroke="#000" stroke-width="3.8" stroke-linecap="butt"/>
<line x1="843" y1="370" x2="843" y2="377" stroke="#000" stroke-width="3.8" stroke-linecap="butt"/>
<line x1="989" y1="370" x2="989" y2="383" stroke="#000" stroke-width="3.8" stroke-linecap="butt"/>
<line x1="448" y1="271.2" x2="521.3" y2="271.2" stroke="#72A0D2" stroke-width="4.6" stroke-linecap="round"/>
<circle cx="484.6" cy="271.2" r="7.2" fill="url(#gb)"/>
<line x1="448" y1="312.2" x2="521.3" y2="312.2" stroke="#E2492B" stroke-width="4.6" stroke-linecap="round"/>
<circle cx="484.6" cy="312.2" r="7.2" fill="url(#gr)"/>
<clipPath id="clipB"><rect x="1117.5" y="24" width="874.5" height="346"/></clipPath><g clip-path="url(#clipB)">
<polyline points="1117,65.3 1136.1,65.3 1155.2,65.3 1174.3,65.3 1193.4,65.3 1212.5,65.3 1307.9,65.8 1403.4,66.3 1498.8,66 1594.3,66.3 1689.8,67.3 1785.2,67.9 1880.7,67.6 1976.1,68.2" fill="none" stroke="#E2492B" stroke-width="3.9" stroke-linejoin="round"/>
<circle cx="1117" cy="65.3" r="7.1" fill="url(#gr)"/>
<circle cx="1136.1" cy="65.3" r="7.1" fill="url(#gr)"/>
<circle cx="1155.2" cy="65.3" r="7.1" fill="url(#gr)"/>
<circle cx="1174.3" cy="65.3" r="7.1" fill="url(#gr)"/>
<circle cx="1193.4" cy="65.3" r="7.1" fill="url(#gr)"/>
<circle cx="1212.5" cy="65.3" r="7.1" fill="url(#gr)"/>
<circle cx="1307.9" cy="65.8" r="7.1" fill="url(#gr)"/>
<circle cx="1403.4" cy="66.3" r="7.1" fill="url(#gr)"/>
<circle cx="1498.8" cy="66" r="7.1" fill="url(#gr)"/>
<circle cx="1594.3" cy="66.3" r="7.1" fill="url(#gr)"/>
<circle cx="1689.8" cy="67.3" r="7.1" fill="url(#gr)"/>
<circle cx="1785.2" cy="67.9" r="7.1" fill="url(#gr)"/>
<circle cx="1880.7" cy="67.6" r="7.1" fill="url(#gr)"/>
<circle cx="1976.1" cy="68.2" r="7.1" fill="url(#gr)"/>
<polyline points="1117,91.5 1136.1,94.2 1155.2,106.9 1174.3,125.8 1193.4,141.6 1212.5,158.7 1307.9,187.3 1403.4,206 1498.8,234 1594.3,257.1 1689.8,271.8 1785.2,292.8 1880.7,310 1976.1,316.9" fill="none" stroke="#72A0D2" stroke-width="3.5" stroke-linejoin="round"/>
<circle cx="1117" cy="91.5" r="7.1" fill="url(#gb)"/>
<circle cx="1136.1" cy="94.2" r="7.1" fill="url(#gb)"/>
<circle cx="1155.2" cy="106.9" r="7.1" fill="url(#gb)"/>
<circle cx="1174.3" cy="125.8" r="7.1" fill="url(#gb)"/>
<circle cx="1193.4" cy="141.6" r="7.1" fill="url(#gb)"/>
<circle cx="1212.5" cy="158.7" r="7.1" fill="url(#gb)"/>
<circle cx="1307.9" cy="187.3" r="7.1" fill="url(#gb)"/>
<circle cx="1403.4" cy="206" r="7.1" fill="url(#gb)"/>
<circle cx="1498.8" cy="234" r="7.1" fill="url(#gb)"/>
<circle cx="1594.3" cy="257.1" r="7.1" fill="url(#gb)"/>
<circle cx="1689.8" cy="271.8" r="7.1" fill="url(#gb)"/>
<circle cx="1785.2" cy="292.8" r="7.1" fill="url(#gb)"/>
<circle cx="1880.7" cy="310" r="7.1" fill="url(#gb)"/>
<circle cx="1976.1" cy="316.9" r="7.1" fill="url(#gb)"/>
</g>
<rect x="1117.5" y="24" width="874.5" height="346" fill="none" stroke="#000" stroke-width="3.8"/>
<line x1="1104.5" y1="370" x2="1117.5" y2="370" stroke="#000" stroke-width="3.8" stroke-linecap="butt"/>
<line x1="1110.5" y1="312.3" x2="1117.5" y2="312.3" stroke="#000" stroke-width="3.8" stroke-linecap="butt"/>
<line x1="1104.5" y1="254.7" x2="1117.5" y2="254.7" stroke="#000" stroke-width="3.8" stroke-linecap="butt"/>
<line x1="1110.5" y1="197" x2="1117.5" y2="197" stroke="#000" stroke-width="3.8" stroke-linecap="butt"/>
<line x1="1104.5" y1="139.3" x2="1117.5" y2="139.3" stroke="#000" stroke-width="3.8" stroke-linecap="butt"/>
<line x1="1110.5" y1="81.7" x2="1117.5" y2="81.7" stroke="#000" stroke-width="3.8" stroke-linecap="butt"/>
<line x1="1104.5" y1="24" x2="1117.5" y2="24" stroke="#000" stroke-width="3.8" stroke-linecap="butt"/>
<line x1="1117" y1="370" x2="1117" y2="383" stroke="#000" stroke-width="3.8" stroke-linecap="butt"/>
<line x1="1315.9" y1="370" x2="1315.9" y2="377" stroke="#000" stroke-width="3.8" stroke-linecap="butt"/>
<line x1="1514.8" y1="370" x2="1514.8" y2="383" stroke="#000" stroke-width="3.8" stroke-linecap="butt"/>
<line x1="1713.6" y1="370" x2="1713.6" y2="377" stroke="#000" stroke-width="3.8" stroke-linecap="butt"/>
<line x1="1912.5" y1="370" x2="1912.5" y2="383" stroke="#000" stroke-width="3.8" stroke-linecap="butt"/>
<line x1="1449" y1="116.6" x2="1525" y2="116.6" stroke="#72A0D2" stroke-width="3.6" stroke-linecap="round"/>
<circle cx="1486.4" cy="116.6" r="7" fill="url(#gb)"/>
<line x1="1449" y1="161.3" x2="1525" y2="161.3" stroke="#E2492B" stroke-width="3.6" stroke-linecap="round"/>
<circle cx="1486.4" cy="161.3" r="7" fill="url(#gr)"/>
<filter id="fc" filterUnits="userSpaceOnUse" x="15.5" y="451.0" width="572.0" height="571.5" color-interpolation-filters="sRGB"><feGaussianBlur in="SourceGraphic" stdDeviation="11" result="b"/><feTurbulence type="fractalNoise" baseFrequency="0.33 0.373" numOctaves="2" seed="3" result="n"/><feColorMatrix in="n" type="matrix" values="1 0 0 0 0 1 0 0 0 0 1 0 0 0 0 0 0 0 0 1" result="ng"/><feComposite in="b" in2="ng" operator="arithmetic" k1="0.66" k2="0.6700" k3="0.36" k4="-0.1800"/><feComponentTransfer><feFuncR type="table" tableValues="0.0000 0.0392 0.0863 0.1490 0.2196 0.2980 0.3843 0.4706 0.5490 0.6275 0.6902 0.7294 0.7686 0.8000 0.8078 0.7843 0.7686 0.7686 0.7843 0.8157 0.8471 0.8784 0.9020 0.9255 0.9451 0.9647 0.9843"/><feFuncG type="table" tableValues="0.0000 0.0000 0.0039 0.0118 0.0196 0.0314 0.0471 0.0627 0.0784 0.1020 0.1412 0.1961 0.2824 0.3686 0.4549 0.5412 0.6275 0.7216 0.8314 0.9176 0.9412 0.9490 0.9569 0.9647 0.9725 0.9804 0.9922"/><feFuncB type="table" tableValues="0.0000 0.0000 0.0039 0.0118 0.0157 0.0235 0.0235 0.0314 0.0353 0.0471 0.0627 0.0784 0.0941 0.1255 0.1490 0.1725 0.1882 0.2039 0.2196 0.2275 0.2588 0.3294 0.4157 0.5647 0.6980 0.8392 0.9412"/></feComponentTransfer></filter><clipPath id="fcc"><rect x="55.5" y="491" width="492" height="491.5"/></clipPath><g clip-path="url(#fcc)"><g filter="url(#fc)"><rect x="15.5" y="451" width="572" height="571.5" fill="rgb(109,109,109)"/><path d="M95.0,494.9 L183.8,496.9" fill="none" stroke="rgb(147,147,147)" stroke-width="22.2" stroke-linecap="round" stroke-linejoin="round"/><path d="M287.5,498.4 L376.3,508.3" fill="none" stroke="rgb(142,142,142)" stroke-width="29.6" stroke-linecap="round" stroke-linejoin="round"/><path d="M438.0,537.9 L502.2,556.2" fill="none" stroke="rgb(172,172,172)" stroke-width="34.6" stroke-linecap="round" stroke-linejoin="round"/><path d="M489.9,572.4 L554.0,592.2" fill="none" stroke="rgb(186,186,186)" stroke-width="42.0" stroke-linecap="round" stroke-linejoin="round"/><path d="M85.1,565.0 L144.3,577.4" fill="none" stroke="rgb(181,181,181)" stroke-width="32.1" stroke-linecap="round" stroke-linejoin="round"/><path d="M139.4,587.2 L218.4,607.0 L277.6,620.3" fill="none" stroke="rgb(149,149,149)" stroke-width="34.6" stroke-linecap="round" stroke-linejoin="round"/><path d="M80.2,607.0 L141.9,620.3" fill="none" stroke="rgb(83,83,83)" stroke-width="22.2" stroke-linecap="round" stroke-linejoin="round"/><path d="M277.6,620.3 L331.9,639.1 L351.7,653.9" fill="none" stroke="rgb(129,129,129)" stroke-width="29.6" stroke-linecap="round" stroke-linejoin="round"/><path d="M329.4,661.3 L349.2,673.6" fill="none" stroke="rgb(145,145,145)" stroke-width="22.2" stroke-linecap="round" stroke-linejoin="round"/><path d="M401.0,634.1 L475.0,653.9" fill="none" stroke="rgb(152,152,152)" stroke-width="34.6" stroke-linecap="round" stroke-linejoin="round"/><path d="M50.6,688.4 L104.9,698.3 L154.2,713.1" fill="none" stroke="rgb(181,181,181)" stroke-width="37.0" stroke-linecap="round" stroke-linejoin="round"/><path d="M277.6,723.0 L331.9,735.3" fill="none" stroke="rgb(147,147,147)" stroke-width="34.6" stroke-linecap="round" stroke-linejoin="round"/><path d="M361.5,737.8 L401.0,745.2 L470.1,762.5" fill="none" stroke="rgb(181,181,181)" stroke-width="32.1" stroke-linecap="round" stroke-linejoin="round"/><path d="M50.6,787.2 L104.9,797.0 L178.9,811.8" fill="none" stroke="rgb(181,181,181)" stroke-width="39.5" stroke-linecap="round" stroke-linejoin="round"/><path d="M178.9,816.8 L262.8,836.5" fill="none" stroke="rgb(157,157,157)" stroke-width="39.5" stroke-linecap="round" stroke-linejoin="round"/><path d="M351.7,826.6 L391.1,836.5" fill="none" stroke="rgb(186,186,186)" stroke-width="44.4" stroke-linecap="round" stroke-linejoin="round"/><path d="M401.0,846.4 L470.1,856.3" fill="none" stroke="rgb(137,137,137)" stroke-width="27.1" stroke-linecap="round" stroke-linejoin="round"/><path d="M499.7,821.7 L554.0,836.5" fill="none" stroke="rgb(142,142,142)" stroke-width="39.5" stroke-linecap="round" stroke-linejoin="round"/><path d="M430.6,895.7 L499.7,915.5" fill="none" stroke="rgb(177,177,177)" stroke-width="54.3" stroke-linecap="round" stroke-linejoin="round"/><path d="M55.5,846.4 L144.3,856.3" fill="none" stroke="rgb(128,128,128)" stroke-width="29.6" stroke-linecap="round" stroke-linejoin="round"/><path d="M243.1,866.1 L287.5,880.9" fill="none" stroke="rgb(128,128,128)" stroke-width="34.6" stroke-linecap="round" stroke-linejoin="round"/><path d="M50.6,950.0 L129.5,959.9 L213.4,972.2" fill="none" stroke="rgb(177,177,177)" stroke-width="39.5" stroke-linecap="round" stroke-linejoin="round"/><path d="M509.6,767.4 L554.0,782.2" fill="none" stroke="rgb(123,123,123)" stroke-width="29.6" stroke-linecap="round" stroke-linejoin="round"/><path d="M302.3,905.6 L331.9,925.4" fill="none" stroke="rgb(128,128,128)" stroke-width="24.7" stroke-linecap="round" stroke-linejoin="round"/><path d="M198.6,523.1 L243.1,537.9 L292.4,560.1 L341.8,589.7 L391.1,604.5 L440.5,614.4" fill="none" stroke="rgb(50,50,50)" stroke-width="42.0" stroke-linecap="round" stroke-linejoin="round"/><path d="M475.0,634.1 L554.0,648.9" fill="none" stroke="rgb(74,74,74)" stroke-width="29.6" stroke-linecap="round" stroke-linejoin="round"/><path d="M465.2,498.4 L554.0,505.8" fill="none" stroke="rgb(83,83,83)" stroke-width="20.7" stroke-linecap="round" stroke-linejoin="round"/><path d="M50.6,584.8 L75.2,599.6" fill="none" stroke="rgb(74,74,74)" stroke-width="33.6" stroke-linecap="round" stroke-linejoin="round"/><path d="M85.1,653.9 L154.2,672.6 L213.4,699.3 L272.7,719.0" fill="none" stroke="rgb(54,54,54)" stroke-width="37.5" stroke-linecap="round" stroke-linejoin="round"/><path d="M351.7,698.3 L420.8,708.2" fill="none" stroke="rgb(74,74,74)" stroke-width="25.2" stroke-linecap="round" stroke-linejoin="round"/><path d="M50.6,740.3 L104.9,747.7 L164.1,762.5" fill="none" stroke="rgb(74,74,74)" stroke-width="23.2" stroke-linecap="round" stroke-linejoin="round"/><path d="M238.1,778.3 L312.2,782.2 L371.4,785.7 L440.5,799.5 L529.3,811.8" fill="none" stroke="rgb(54,54,54)" stroke-width="29.6" stroke-linecap="round" stroke-linejoin="round"/><path d="M341.8,782.2 L396.1,789.6" fill="none" stroke="rgb(46,46,46)" stroke-width="20.7" stroke-linecap="round" stroke-linejoin="round"/><path d="M489.9,723.0 L554.0,727.9" fill="none" stroke="rgb(74,74,74)" stroke-width="33.6" stroke-linecap="round" stroke-linejoin="round"/><path d="M75.2,900.7 L154.2,910.5 L228.3,915.5" fill="none" stroke="rgb(50,50,50)" stroke-width="31.6" stroke-linecap="round" stroke-linejoin="round"/><path d="M331.9,871.1 L376.3,915.5 L401.0,950.0" fill="none" stroke="rgb(74,74,74)" stroke-width="33.6" stroke-linecap="round" stroke-linejoin="round"/><path d="M391.1,964.8 L499.7,974.7" fill="none" stroke="rgb(74,74,74)" stroke-width="20.7" stroke-linecap="round" stroke-linejoin="round"/><path d="M519.5,920.4 L554.0,955.0" fill="none" stroke="rgb(74,74,74)" stroke-width="25.2" stroke-linecap="round" stroke-linejoin="round"/><path d="M252.9,935.2 L292.4,979.6" fill="none" stroke="rgb(74,74,74)" stroke-width="25.2" stroke-linecap="round" stroke-linejoin="round"/></g></g><filter id="fd" filterUnits="userSpaceOnUse" x="658.5" y="451.0" width="571.5" height="571.5" color-interpolation-filters="sRGB"><feGaussianBlur in="SourceGraphic" stdDeviation="10" result="b"/><feTurbulence type="fractalNoise" baseFrequency="0.42 0.475" numOctaves="2" seed="11" result="n"/><feColorMatrix in="n" type="matrix" values="1 0 0 0 0 1 0 0 0 0 1 0 0 0 0 0 0 0 0 1" result="ng"/><feComposite in="b" in2="ng" operator="arithmetic" k1="0.5" k2="0.7500" k3="0.13" k4="-0.0650"/><feComponentTransfer><feFuncR type="table" tableValues="0.0000 0.0392 0.0863 0.1490 0.2196 0.2980 0.3843 0.4706 0.5490 0.6275 0.6902 0.7294 0.7686 0.8000 0.8078 0.7843 0.7686 0.7686 0.7843 0.8157 0.8471 0.8784 0.9020 0.9255 0.9451 0.9647 0.9843"/><feFuncG type="table" tableValues="0.0000 0.0000 0.0039 0.0118 0.0196 0.0314 0.0471 0.0627 0.0784 0.1020 0.1412 0.1961 0.2824 0.3686 0.4549 0.5412 0.6275 0.7216 0.8314 0.9176 0.9412 0.9490 0.9569 0.9647 0.9725 0.9804 0.9922"/><feFuncB type="table" tableValues="0.0000 0.0000 0.0039 0.0118 0.0157 0.0235 0.0235 0.0314 0.0353 0.0471 0.0627 0.0784 0.0941 0.1255 0.1490 0.1725 0.1882 0.2039 0.2196 0.2275 0.2588 0.3294 0.4157 0.5647 0.6980 0.8392 0.9412"/></feComponentTransfer></filter><clipPath id="fdc"><rect x="698.5" y="491" width="491.5" height="491.5"/></clipPath><g clip-path="url(#fdc)"><g filter="url(#fd)"><rect x="658.5" y="451" width="571.5" height="571.5" fill="rgb(133,133,133)"/><path d="M738.0,555.2 L807.2,560.2" fill="none" stroke="rgb(116,116,116)" stroke-width="27.2" stroke-linecap="round" stroke-linejoin="round"/><path d="M911.0,515.7 L975.2,530.5 L1004.8,540.4" fill="none" stroke="rgb(111,111,111)" stroke-width="34.6" stroke-linecap="round" stroke-linejoin="round"/><path d="M1069.1,515.7 L1128.3,530.5" fill="none" stroke="rgb(116,116,116)" stroke-width="27.2" stroke-linecap="round" stroke-linejoin="round"/><path d="M1034.5,584.9 L1088.8,609.6" fill="none" stroke="rgb(113,113,113)" stroke-width="29.6" stroke-linecap="round" stroke-linejoin="round"/><path d="M693.6,654.0 L772.6,659.0" fill="none" stroke="rgb(113,113,113)" stroke-width="29.6" stroke-linecap="round" stroke-linejoin="round"/><path d="M812.1,604.6 L866.5,624.4" fill="none" stroke="rgb(118,118,118)" stroke-width="29.6" stroke-linecap="round" stroke-linejoin="round"/><path d="M945.5,644.2 L999.9,659.0" fill="none" stroke="rgb(118,118,118)" stroke-width="27.2" stroke-linecap="round" stroke-linejoin="round"/><path d="M1108.6,644.2 L1192.6,673.8" fill="none" stroke="rgb(113,113,113)" stroke-width="32.1" stroke-linecap="round" stroke-linejoin="round"/><path d="M915.9,738.0 L994.9,760.3" fill="none" stroke="rgb(110,110,110)" stroke-width="27.2" stroke-linecap="round" stroke-linejoin="round"/><path d="M698.5,747.9 L772.6,767.7" fill="none" stroke="rgb(118,118,118)" stroke-width="29.6" stroke-linecap="round" stroke-linejoin="round"/><path d="M1093.8,757.8 L1167.9,777.6" fill="none" stroke="rgb(111,111,111)" stroke-width="34.6" stroke-linecap="round" stroke-linejoin="round"/><path d="M876.4,807.2 L935.7,822.0" fill="none" stroke="rgb(118,118,118)" stroke-width="22.2" stroke-linecap="round" stroke-linejoin="round"/><path d="M827.0,792.4 L886.2,802.3" fill="none" stroke="rgb(121,121,121)" stroke-width="19.8" stroke-linecap="round" stroke-linejoin="round"/><path d="M738.0,831.9 L797.3,846.7" fill="none" stroke="rgb(116,116,116)" stroke-width="27.2" stroke-linecap="round" stroke-linejoin="round"/><path d="M945.5,812.1 L980.1,836.8" fill="none" stroke="rgb(118,118,118)" stroke-width="22.2" stroke-linecap="round" stroke-linejoin="round"/><path d="M1039.4,856.6 L1113.5,876.4" fill="none" stroke="rgb(111,111,111)" stroke-width="34.6" stroke-linecap="round" stroke-linejoin="round"/><path d="M841.8,871.4 L906.0,886.3" fill="none" stroke="rgb(116,116,116)" stroke-width="24.7" stroke-linecap="round" stroke-linejoin="round"/><path d="M698.5,911.0 L757.8,935.7" fill="none" stroke="rgb(118,118,118)" stroke-width="29.6" stroke-linecap="round" stroke-linejoin="round"/><path d="M945.5,906.0 L990.0,925.8" fill="none" stroke="rgb(118,118,118)" stroke-width="22.2" stroke-linecap="round" stroke-linejoin="round"/><path d="M698.5,525.6 L718.3,555.2" fill="none" stroke="rgb(159,159,159)" stroke-width="29.6" stroke-linecap="round" stroke-linejoin="round"/><path d="M698.5,589.8 L743.0,614.5" fill="none" stroke="rgb(150,150,150)" stroke-width="29.6" stroke-linecap="round" stroke-linejoin="round"/><path d="M1004.8,540.4 L1064.1,555.2" fill="none" stroke="rgb(150,150,150)" stroke-width="24.7" stroke-linecap="round" stroke-linejoin="round"/><path d="M1113.5,555.2 L1187.6,589.8" fill="none" stroke="rgb(154,154,154)" stroke-width="34.6" stroke-linecap="round" stroke-linejoin="round"/><path d="M955.4,604.6 L1024.6,624.4" fill="none" stroke="rgb(150,150,150)" stroke-width="27.2" stroke-linecap="round" stroke-linejoin="round"/><path d="M1039.4,639.2 L1093.8,698.5" fill="none" stroke="rgb(154,154,154)" stroke-width="34.6" stroke-linecap="round" stroke-linejoin="round"/><path d="M777.6,663.9 L822.0,678.7" fill="none" stroke="rgb(150,150,150)" stroke-width="24.7" stroke-linecap="round" stroke-linejoin="round"/><path d="M876.4,698.5 L975.2,713.3" fill="none" stroke="rgb(150,150,150)" stroke-width="27.2" stroke-linecap="round" stroke-linejoin="round"/><path d="M1128.3,698.5 L1187.6,723.2" fill="none" stroke="rgb(150,150,150)" stroke-width="29.6" stroke-linecap="round" stroke-linejoin="round"/><path d="M866.5,767.7 L940.6,782.5" fill="none" stroke="rgb(150,150,150)" stroke-width="29.6" stroke-linecap="round" stroke-linejoin="round"/><path d="M698.5,792.4 L767.7,802.3" fill="none" stroke="rgb(154,154,154)" stroke-width="24.7" stroke-linecap="round" stroke-linejoin="round"/><path d="M812.1,827.0 L866.5,841.8" fill="none" stroke="rgb(167,167,167)" stroke-width="37.1" stroke-linecap="round" stroke-linejoin="round"/><path d="M994.9,787.4 L1103.6,807.2" fill="none" stroke="rgb(150,150,150)" stroke-width="34.6" stroke-linecap="round" stroke-linejoin="round"/><path d="M975.2,856.6 L1024.6,881.3" fill="none" stroke="rgb(150,150,150)" stroke-width="29.6" stroke-linecap="round" stroke-linejoin="round"/><path d="M1123.4,846.7 L1187.6,876.4" fill="none" stroke="rgb(150,150,150)" stroke-width="34.6" stroke-linecap="round" stroke-linejoin="round"/><path d="M708.4,866.5 L777.6,881.3" fill="none" stroke="rgb(150,150,150)" stroke-width="27.2" stroke-linecap="round" stroke-linejoin="round"/></g></g><linearGradient id="cb1" x1="0" y1="1" x2="0" y2="0"><stop offset="0.0000" stop-color="#000000"/><stop offset="0.0385" stop-color="#0a0000"/><stop offset="0.0769" stop-color="#160101"/><stop offset="0.1154" stop-color="#260303"/><stop offset="0.1538" stop-color="#380504"/><stop offset="0.1923" stop-color="#4c0806"/><stop offset="0.2308" stop-color="#620c06"/><stop offset="0.2692" stop-color="#781008"/><stop offset="0.3077" stop-color="#8c1409"/><stop offset="0.3462" stop-color="#a01a0c"/><stop offset="0.3846" stop-color="#b02410"/><stop offset="0.4231" stop-color="#ba3214"/><stop offset="0.4615" stop-color="#c44818"/><stop offset="0.5000" stop-color="#cc5e20"/><stop offset="0.5385" stop-color="#ce7426"/><stop offset="0.5769" stop-color="#c88a2c"/><stop offset="0.6154" stop-color="#c4a030"/><stop offset="0.6538" stop-color="#c4b834"/><stop offset="0.6923" stop-color="#c8d438"/><stop offset="0.7308" stop-color="#d0ea3a"/><stop offset="0.7692" stop-color="#d8f042"/><stop offset="0.8077" stop-color="#e0f254"/><stop offset="0.8462" stop-color="#e6f46a"/><stop offset="0.8846" stop-color="#ecf690"/><stop offset="0.9231" stop-color="#f1f8b2"/><stop offset="0.9615" stop-color="#f6fad6"/><stop offset="1.0000" stop-color="#fbfdf0"/></linearGradient><rect x="559.2" y="493.9" width="30.4" height="488.4" fill="url(#cb1)" stroke="#000" stroke-width="2.2"/><line x1="589.6" y1="982.0" x2="601.9" y2="982.0" stroke="#000" stroke-width="2.2"/><text transform="translate(604.2,989.4) scale(1,1.08)" font-size="21">0</text><line x1="589.6" y1="967.0" x2="598.6" y2="967.0" stroke="#000" stroke-width="2.2"/><line x1="589.6" y1="952.0" x2="598.6" y2="952.0" stroke="#000" stroke-width="2.2"/><line x1="589.6" y1="936.9" x2="598.6" y2="936.9" stroke="#000" stroke-width="2.2"/><line x1="589.6" y1="921.9" x2="598.6" y2="921.9" stroke="#000" stroke-width="2.2"/><line x1="589.6" y1="906.9" x2="601.9" y2="906.9" stroke="#000" stroke-width="2.2"/><text transform="translate(604.2,914.3) scale(1,1.08)" font-size="21">4</text><line x1="589.6" y1="891.9" x2="598.6" y2="891.9" stroke="#000" stroke-width="2.2"/><line x1="589.6" y1="876.9" x2="598.6" y2="876.9" stroke="#000" stroke-width="2.2"/><line x1="589.6" y1="861.8" x2="598.6" y2="861.8" stroke="#000" stroke-width="2.2"/><line x1="589.6" y1="846.8" x2="598.6" y2="846.8" stroke="#000" stroke-width="2.2"/><line x1="589.6" y1="831.8" x2="601.9" y2="831.8" stroke="#000" stroke-width="2.2"/><text transform="translate(604.2,839.2) scale(1,1.08)" font-size="21">8</text><line x1="589.6" y1="816.8" x2="598.6" y2="816.8" stroke="#000" stroke-width="2.2"/><line x1="589.6" y1="801.8" x2="598.6" y2="801.8" stroke="#000" stroke-width="2.2"/><line x1="589.6" y1="786.7" x2="598.6" y2="786.7" stroke="#000" stroke-width="2.2"/><line x1="589.6" y1="771.7" x2="598.6" y2="771.7" stroke="#000" stroke-width="2.2"/><line x1="589.6" y1="756.7" x2="601.9" y2="756.7" stroke="#000" stroke-width="2.2"/><text transform="translate(604.2,764.1) scale(1,1.08)" font-size="21">12</text><line x1="589.6" y1="741.7" x2="598.6" y2="741.7" stroke="#000" stroke-width="2.2"/><line x1="589.6" y1="726.7" x2="598.6" y2="726.7" stroke="#000" stroke-width="2.2"/><line x1="589.6" y1="711.6" x2="598.6" y2="711.6" stroke="#000" stroke-width="2.2"/><line x1="589.6" y1="696.6" x2="598.6" y2="696.6" stroke="#000" stroke-width="2.2"/><line x1="589.6" y1="681.6" x2="601.9" y2="681.6" stroke="#000" stroke-width="2.2"/><text transform="translate(604.2,689.0) scale(1,1.08)" font-size="21">16</text><line x1="589.6" y1="666.6" x2="598.6" y2="666.6" stroke="#000" stroke-width="2.2"/><line x1="589.6" y1="651.6" x2="598.6" y2="651.6" stroke="#000" stroke-width="2.2"/><line x1="589.6" y1="636.5" x2="598.6" y2="636.5" stroke="#000" stroke-width="2.2"/><line x1="589.6" y1="621.5" x2="598.6" y2="621.5" stroke="#000" stroke-width="2.2"/><line x1="589.6" y1="606.5" x2="601.9" y2="606.5" stroke="#000" stroke-width="2.2"/><text transform="translate(604.2,613.9) scale(1,1.08)" font-size="21">20</text><line x1="589.6" y1="591.5" x2="598.6" y2="591.5" stroke="#000" stroke-width="2.2"/><line x1="589.6" y1="576.5" x2="598.6" y2="576.5" stroke="#000" stroke-width="2.2"/><line x1="589.6" y1="561.4" x2="598.6" y2="561.4" stroke="#000" stroke-width="2.2"/><line x1="589.6" y1="546.4" x2="598.6" y2="546.4" stroke="#000" stroke-width="2.2"/><line x1="589.6" y1="531.4" x2="601.9" y2="531.4" stroke="#000" stroke-width="2.2"/><text transform="translate(604.2,538.8) scale(1,1.08)" font-size="21">24</text><line x1="589.6" y1="516.4" x2="598.6" y2="516.4" stroke="#000" stroke-width="2.2"/><line x1="589.6" y1="501.4" x2="598.6" y2="501.4" stroke="#000" stroke-width="2.2"/><linearGradient id="cb2" x1="0" y1="1" x2="0" y2="0"><stop offset="0.0000" stop-color="#000000"/><stop offset="0.0385" stop-color="#0a0000"/><stop offset="0.0769" stop-color="#160101"/><stop offset="0.1154" stop-color="#260303"/><stop offset="0.1538" stop-color="#380504"/><stop offset="0.1923" stop-color="#4c0806"/><stop offset="0.2308" stop-color="#620c06"/><stop offset="0.2692" stop-color="#781008"/><stop offset="0.3077" stop-color="#8c1409"/><stop offset="0.3462" stop-color="#a01a0c"/><stop offset="0.3846" stop-color="#b02410"/><stop offset="0.4231" stop-color="#ba3214"/><stop offset="0.4615" stop-color="#c44818"/><stop offset="0.5000" stop-color="#cc5e20"/><stop offset="0.5385" stop-color="#ce7426"/><stop offset="0.5769" stop-color="#c88a2c"/><stop offset="0.6154" stop-color="#c4a030"/><stop offset="0.6538" stop-color="#c4b834"/><stop offset="0.6923" stop-color="#c8d438"/><stop offset="0.7308" stop-color="#d0ea3a"/><stop offset="0.7692" stop-color="#d8f042"/><stop offset="0.8077" stop-color="#e0f254"/><stop offset="0.8462" stop-color="#e6f46a"/><stop offset="0.8846" stop-color="#ecf690"/><stop offset="0.9231" stop-color="#f1f8b2"/><stop offset="0.9615" stop-color="#f6fad6"/><stop offset="1.0000" stop-color="#fbfdf0"/></linearGradient><rect x="1203.8" y="493.9" width="30.4" height="488.4" fill="url(#cb2)" stroke="#000" stroke-width="2.2"/><line x1="1234.2" y1="982.0" x2="1246.5" y2="982.0" stroke="#000" stroke-width="2.2"/><text transform="translate(1248.8,989.4) scale(1,1.08)" font-size="21">0</text><line x1="1234.2" y1="967.0" x2="1243.2" y2="967.0" stroke="#000" stroke-width="2.2"/><line x1="1234.2" y1="952.0" x2="1243.2" y2="952.0" stroke="#000" stroke-width="2.2"/><line x1="1234.2" y1="936.9" x2="1243.2" y2="936.9" stroke="#000" stroke-width="2.2"/><line x1="1234.2" y1="921.9" x2="1243.2" y2="921.9" stroke="#000" stroke-width="2.2"/><line x1="1234.2" y1="906.9" x2="1246.5" y2="906.9" stroke="#000" stroke-width="2.2"/><text transform="translate(1248.8,914.3) scale(1,1.08)" font-size="21">4</text><line x1="1234.2" y1="891.9" x2="1243.2" y2="891.9" stroke="#000" stroke-width="2.2"/><line x1="1234.2" y1="876.9" x2="1243.2" y2="876.9" stroke="#000" stroke-width="2.2"/><line x1="1234.2" y1="861.8" x2="1243.2" y2="861.8" stroke="#000" stroke-width="2.2"/><line x1="1234.2" y1="846.8" x2="1243.2" y2="846.8" stroke="#000" stroke-width="2.2"/><line x1="1234.2" y1="831.8" x2="1246.5" y2="831.8" stroke="#000" stroke-width="2.2"/><text transform="translate(1248.8,839.2) scale(1,1.08)" font-size="21">8</text><line x1="1234.2" y1="816.8" x2="1243.2" y2="816.8" stroke="#000" stroke-width="2.2"/><line x1="1234.2" y1="801.8" x2="1243.2" y2="801.8" stroke="#000" stroke-width="2.2"/><line x1="1234.2" y1="786.7" x2="1243.2" y2="786.7" stroke="#000" stroke-width="2.2"/><line x1="1234.2" y1="771.7" x2="1243.2" y2="771.7" stroke="#000" stroke-width="2.2"/><line x1="1234.2" y1="756.7" x2="1246.5" y2="756.7" stroke="#000" stroke-width="2.2"/><text transform="translate(1248.8,764.1) scale(1,1.08)" font-size="21">12</text><line x1="1234.2" y1="741.7" x2="1243.2" y2="741.7" stroke="#000" stroke-width="2.2"/><line x1="1234.2" y1="726.7" x2="1243.2" y2="726.7" stroke="#000" stroke-width="2.2"/><line x1="1234.2" y1="711.6" x2="1243.2" y2="711.6" stroke="#000" stroke-width="2.2"/><line x1="1234.2" y1="696.6" x2="1243.2" y2="696.6" stroke="#000" stroke-width="2.2"/><line x1="1234.2" y1="681.6" x2="1246.5" y2="681.6" stroke="#000" stroke-width="2.2"/><text transform="translate(1248.8,689.0) scale(1,1.08)" font-size="21">16</text><line x1="1234.2" y1="666.6" x2="1243.2" y2="666.6" stroke="#000" stroke-width="2.2"/><line x1="1234.2" y1="651.6" x2="1243.2" y2="651.6" stroke="#000" stroke-width="2.2"/><line x1="1234.2" y1="636.5" x2="1243.2" y2="636.5" stroke="#000" stroke-width="2.2"/><line x1="1234.2" y1="621.5" x2="1243.2" y2="621.5" stroke="#000" stroke-width="2.2"/><line x1="1234.2" y1="606.5" x2="1246.5" y2="606.5" stroke="#000" stroke-width="2.2"/><text transform="translate(1248.8,613.9) scale(1,1.08)" font-size="21">20</text><line x1="1234.2" y1="591.5" x2="1243.2" y2="591.5" stroke="#000" stroke-width="2.2"/><line x1="1234.2" y1="576.5" x2="1243.2" y2="576.5" stroke="#000" stroke-width="2.2"/><line x1="1234.2" y1="561.4" x2="1243.2" y2="561.4" stroke="#000" stroke-width="2.2"/><line x1="1234.2" y1="546.4" x2="1243.2" y2="546.4" stroke="#000" stroke-width="2.2"/><line x1="1234.2" y1="531.4" x2="1246.5" y2="531.4" stroke="#000" stroke-width="2.2"/><text transform="translate(1248.8,538.8) scale(1,1.08)" font-size="21">24</text><line x1="1234.2" y1="516.4" x2="1243.2" y2="516.4" stroke="#000" stroke-width="2.2"/><line x1="1234.2" y1="501.4" x2="1243.2" y2="501.4" stroke="#000" stroke-width="2.2"/>
<rect x="1509.5" y="543.8" width="102" height="172.6" fill="#72A0D2"/>
<rect x="1797" y="705.2" width="102.5" height="11.2" fill="#E2492B"/>
<rect x="1415.7" y="509" width="576" height="207.4" fill="none" stroke="#000" stroke-width="3.8"/>
<line x1="1410.2" y1="716.4" x2="1415.7" y2="716.4" stroke="#000" stroke-width="3" stroke-linecap="butt"/>
<line x1="1413.2" y1="636.5" x2="1415.7" y2="636.5" stroke="#000" stroke-width="3" stroke-linecap="butt"/>
<line x1="1410.2" y1="556.6" x2="1415.7" y2="556.6" stroke="#000" stroke-width="3" stroke-linecap="butt"/>
<rect x="1510" y="878.8" width="101.5" height="56.5" fill="#72A0D2"/>
<rect x="1798" y="775.1" width="102" height="160.2" fill="#E2492B"/>
<rect x="1417.5" y="728.5" width="575" height="206.8" fill="none" stroke="#000" stroke-width="3.8"/>
<line x1="1412" y1="935.3" x2="1417.5" y2="935.3" stroke="#000" stroke-width="3" stroke-linecap="butt"/>
<line x1="1415" y1="841" x2="1417.5" y2="841" stroke="#000" stroke-width="3" stroke-linecap="butt"/>
<line x1="1412" y1="746.8" x2="1417.5" y2="746.8" stroke="#000" stroke-width="3" stroke-linecap="butt"/>
<text id="t_a30" transform="translate(89.30,33.00) scale(1,1.027)" font-size="33.10" text-anchor="end" fill="#000">30</text><text id="t_a20" transform="translate(88.30,148.50) scale(1,1.027)" font-size="33.10" text-anchor="end" fill="#000">20</text><text id="t_a10" transform="translate(89.05,263.50) scale(1,1.027)" font-size="33.10" text-anchor="end" fill="#000">10</text><text id="t_a0y" transform="translate(88.55,379.70) scale(1,1.027)" font-size="33.10" text-anchor="end" fill="#000">0</text><text id="t_a0x" transform="translate(113.00,419.70) scale(1,1.027)" font-size="33.10" text-anchor="middle" fill="#000">0</text><text id="t_a1000" transform="translate(404.50,419.00) scale(1,1.027)" font-size="33.10" text-anchor="middle" fill="#000">1000</text><text id="t_a2000" transform="translate(696.50,419.00) scale(1,1.027)" font-size="33.10" text-anchor="middle" fill="#000">2000</text><text id="t_a3000" transform="translate(987.70,419.00) scale(1,1.027)" font-size="33.10" text-anchor="middle" fill="#000">3000</text><text id="t_atime" transform="translate(560.75,452.00) scale(1,0.960)" font-size="33.70" text-anchor="middle" fill="#000">Time (hours)</text><text id="t_apce" transform="translate(42.00,189.75) rotate(-90) scale(1,0.960)" font-size="33.70" text-anchor="middle" fill="#000">PCE (%)</text><text id="t_alab" transform="translate(2.50,40.50)" font-size="46.50" text-anchor="start" fill="#000">a</text><text id="t_aleg1" transform="translate(530.75,282.25)" font-size="34.60" text-anchor="start" fill="#000">FACs</text><text id="t_aleg2" transform="translate(529.50,323.60)" font-size="34.60" text-anchor="start" fill="#000">IF-FACs</text><text id="t_blab" transform="translate(1020.90,40.60)" font-size="46.50" text-anchor="start" fill="#000">b</text><text id="t_b30" transform="translate(1091.50,33.40) scale(1,1.027)" font-size="33.10" text-anchor="end" fill="#000">30</text><text id="t_b20" transform="translate(1091.50,148.50) scale(1,1.027)" font-size="33.10" text-anchor="end" fill="#000">20</text><text id="t_b10" transform="translate(1091.50,263.50) scale(1,1.027)" font-size="33.10" text-anchor="end" fill="#000">10</text><text id="t_b0y" transform="translate(1091.50,379.70) scale(1,1.027)" font-size="33.10" text-anchor="end" fill="#000">0</text><text id="t_b0x" transform="translate(1117.25,420.80) scale(1,1.027)" font-size="33.10" text-anchor="middle" fill="#000">0</text><text id="t_b500" transform="translate(1515.25,420.80) scale(1,1.027)" font-size="33.10" text-anchor="middle" fill="#000">500</text><text id="t_b1000" transform="translate(1912.75,420.50) scale(1,1.027)" font-size="33.10" text-anchor="middle" fill="#000">1000</text><text id="t_btime" transform="translate(1517.50,451.00) scale(1,0.960)" font-size="33.70" text-anchor="middle" fill="#000">Time (hours)</text><text id="t_bpce" transform="translate(1042.00,197.00) rotate(-90) scale(1,0.960)" font-size="33.70" text-anchor="middle" fill="#000">PCE (%)</text><text id="t_bleg1" transform="translate(1532.00,127.00)" font-size="34.60" text-anchor="start" fill="#000">FACs</text><text id="t_bleg2" transform="translate(1531.50,172.70)" font-size="34.60" text-anchor="start" fill="#000">IF-FACs</text><text id="t_bnote" transform="translate(1455.25,316.00) scale(1,0.960)" font-size="33.70" text-anchor="start" fill="#000">85% RH, 85 °C</text><text id="t_elab" transform="translate(1282.70,517.90)" font-size="46.50" text-anchor="start" fill="#000">e</text><text id="t_e4" transform="translate(1405.50,565.80)" font-size="31.50" text-anchor="end" fill="#000">4</text><text id="t_e0" transform="translate(1406.25,725.10)" font-size="31.50" text-anchor="end" fill="#000">0</text><text id="t_e06" transform="translate(1406.50,756.20)" font-size="31.50" text-anchor="end" fill="#000">0.6</text><text id="t_e04" transform="translate(1405.25,945.10)" font-size="31.50" text-anchor="end" fill="#000">0.4</text><text id="t_e432" transform="translate(1562.75,537.90)" font-size="32.50" text-anchor="middle" fill="#72A0D2">4.32</text><text id="t_e028" transform="translate(1851.00,699.50)" font-size="32.50" text-anchor="middle" fill="#E2492B">0.28</text><text id="t_e046" transform="translate(1560.50,868.10)" font-size="32.50" text-anchor="middle" fill="#72A0D2">0.46 ± 0.02</text><text id="t_e057" transform="translate(1851.50,766.90)" font-size="32.50" text-anchor="middle" fill="#E2492B">0.57 ± 0.06</text><text id="t_efacs" transform="translate(1562.25,986.00) scale(1,0.960)" font-size="33.20" text-anchor="middle" fill="#000">FACs</text><text id="t_eif" transform="translate(1849.00,982.60) scale(1,0.960)" font-size="33.20" text-anchor="middle" fill="#000">IF-FACs</text><text id="t_clab" transform="translate(3.50,518.30)" font-size="46.50" text-anchor="start" fill="#000">c</text><text id="t_dlab" transform="translate(649.90,518.60)" font-size="46.50" text-anchor="start" fill="#000">d</text><text id="t_cw" transform="translate(74.75,546.50) scale(1,0.990)" font-size="48.30" text-anchor="start" fill="#fff">FACs</text><text id="t_dw" transform="translate(713.50,546.00) scale(1,0.990)" font-size="48.30" text-anchor="start" fill="#fff">IF-FACs</text>
<text id="t_nion" transform="translate(1362,716.3) rotate(-90)" font-size="31.7" fill="#000"><tspan font-style="italic">N</tspan><tspan font-size="21.5" dy="9.5">ion</tspan><tspan dy="-9.5"> (</tspan><tspan font-weight="bold">×</tspan><tspan>10</tspan><tspan font-size="21.5" dy="-12.5">13</tspan><tspan dy="12.5"> cm</tspan><tspan font-size="21.5" dy="-12.5">−3</tspan><tspan dy="12.5">)</tspan></text>
<text id="t_ea" transform="translate(1368,882.5) rotate(-90)" font-size="33" fill="#000"><tspan font-style="italic">E</tspan><tspan font-size="21.5" dy="9.5">a</tspan><tspan dy="-9.5"> (eV)</tspan></text>
</svg>
</body></html>
